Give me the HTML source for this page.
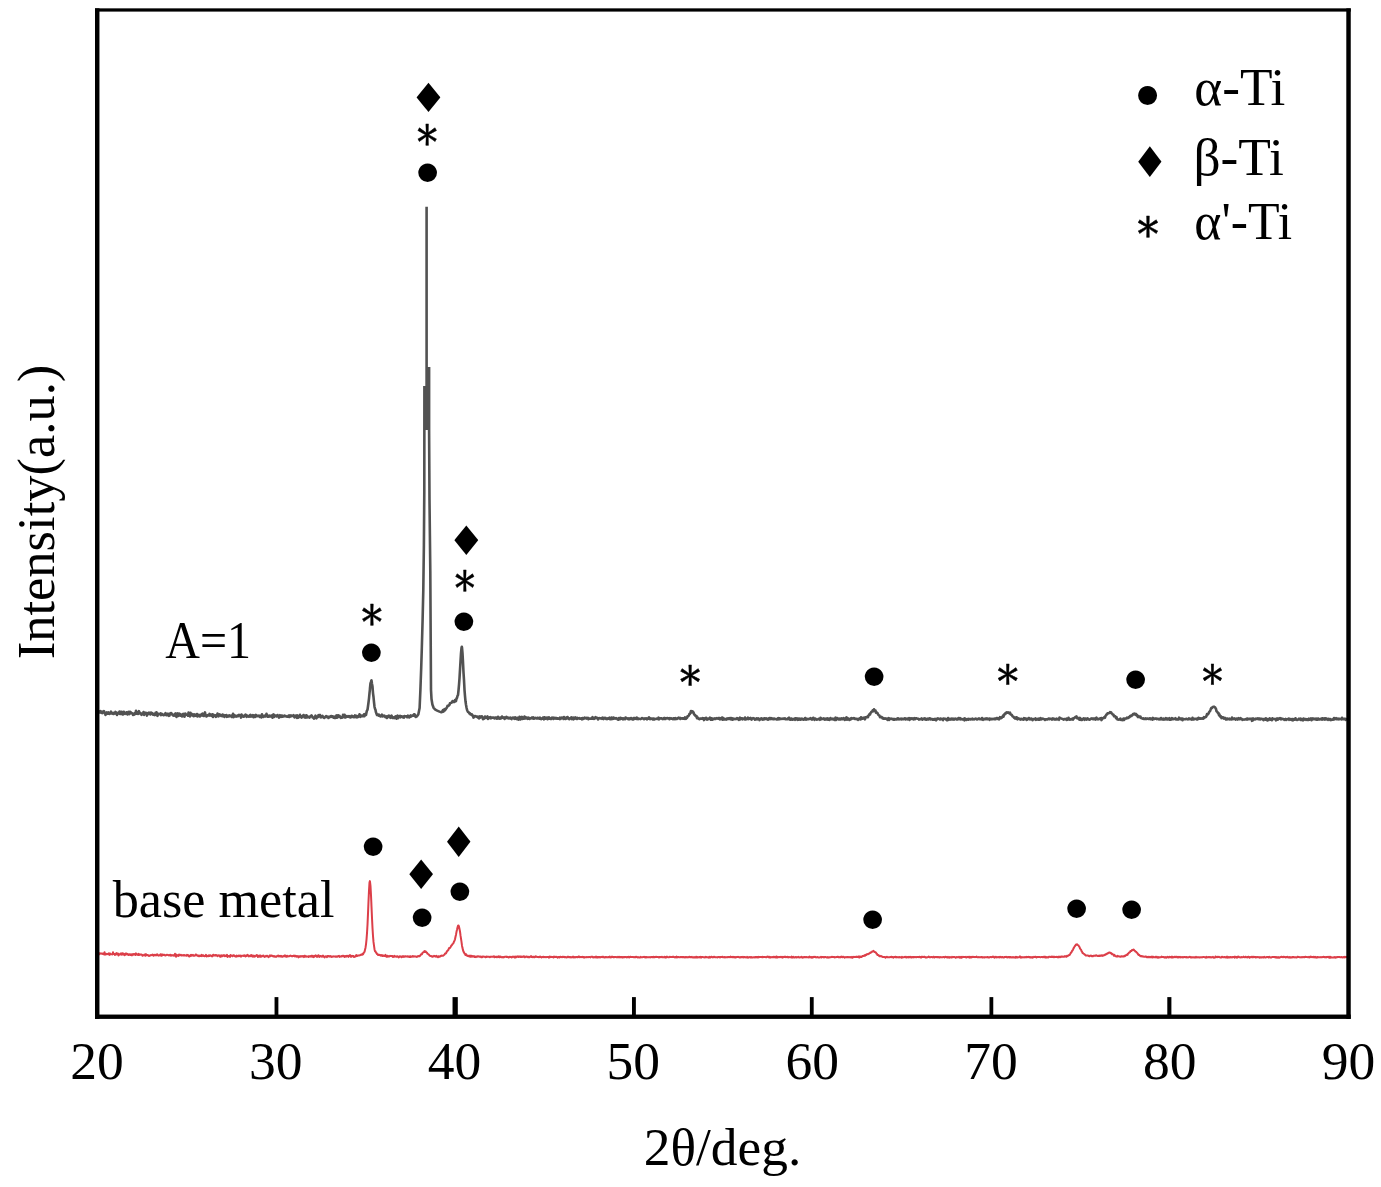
<!DOCTYPE html>
<html><head><meta charset="utf-8"><title>XRD patterns</title>
<style>html,body{margin:0;padding:0;background:#fff;overflow:hidden}svg{display:block}text{fill:#000}</style>
</head><body>
<svg width="1381" height="1187" viewBox="0 0 1381 1187">
<rect width="1381" height="1187" fill="#fff"/>
<path d="M97.0 713.7 L97.5 713.9 L98.0 712.5 L98.5 711.7 L99.0 711.4 L99.5 712.5 L100.0 711.5 L100.5 711.1 L101.0 712.7 L101.5 712.7 L102.0 713.1 L102.5 711.7 L103.0 712.6 L103.5 712.5 L104.0 711.1 L104.5 713.2 L105.0 713.0 L105.5 715.0 L106.0 712.9 L106.5 712.5 L107.0 713.9 L107.5 712.9 L108.0 713.6 L108.5 712.4 L109.0 713.0 L109.5 713.8 L110.0 713.5 L110.5 712.9 L111.0 711.7 L111.5 713.3 L112.0 712.9 L112.5 713.6 L113.0 713.1 L113.5 714.0 L114.0 712.8 L114.5 713.1 L115.0 713.6 L115.5 711.9 L116.0 712.6 L116.5 712.5 L117.0 714.9 L117.5 712.9 L118.0 713.7 L118.5 713.6 L119.0 712.8 L119.5 711.5 L120.0 714.0 L120.5 712.7 L121.0 713.8 L121.5 711.8 L122.0 712.7 L122.5 714.4 L123.0 714.5 L123.5 711.9 L124.0 711.9 L124.5 713.1 L125.0 713.9 L125.5 713.4 L126.0 713.5 L126.5 712.3 L127.0 713.8 L127.5 714.4 L128.0 712.9 L128.5 711.9 L129.0 712.6 L129.5 714.1 L130.0 711.7 L130.5 713.3 L131.0 712.4 L131.5 713.3 L132.0 713.2 L132.5 713.4 L133.0 714.9 L133.5 713.8 L134.0 714.7 L134.5 713.3 L135.0 713.0 L135.5 713.8 L136.0 710.8 L136.5 713.5 L137.0 713.7 L137.5 712.3 L138.0 714.0 L138.5 713.0 L139.0 711.2 L139.5 713.4 L140.0 712.7 L140.5 713.1 L141.0 713.5 L141.5 714.8 L142.0 713.7 L142.5 713.6 L143.0 714.0 L143.5 712.0 L144.0 714.9 L144.5 712.7 L145.0 714.1 L145.5 712.7 L146.0 712.8 L146.5 713.4 L147.0 715.6 L147.5 714.4 L148.0 713.2 L148.5 713.5 L149.0 712.7 L149.5 713.8 L150.0 713.3 L150.5 714.5 L151.0 712.6 L151.5 713.6 L152.0 713.1 L152.5 713.2 L153.0 714.6 L153.5 714.1 L154.0 714.5 L154.5 715.1 L155.0 715.0 L155.5 712.7 L156.0 714.5 L156.5 712.3 L157.0 714.0 L157.5 715.8 L158.0 713.9 L158.5 713.7 L159.0 714.2 L159.5 714.1 L160.0 714.1 L160.5 713.4 L161.0 715.1 L161.5 715.0 L162.0 713.9 L162.5 714.4 L163.0 714.8 L163.5 715.1 L164.0 714.5 L164.5 714.8 L165.0 714.0 L165.5 713.2 L166.0 713.8 L166.5 715.2 L167.0 715.2 L167.5 714.4 L168.0 713.7 L168.5 714.6 L169.0 715.8 L169.5 715.6 L170.0 713.7 L170.5 714.3 L171.0 713.0 L171.5 713.3 L172.0 714.5 L172.5 714.4 L173.0 715.3 L173.5 715.6 L174.0 715.2 L174.5 715.6 L175.0 713.9 L175.5 713.4 L176.0 714.9 L176.5 716.9 L177.0 714.8 L177.5 713.4 L178.0 714.7 L178.5 715.8 L179.0 713.6 L179.5 715.3 L180.0 714.0 L180.5 715.7 L181.0 715.3 L181.5 714.8 L182.0 716.4 L182.5 714.2 L183.0 714.0 L183.5 716.3 L184.0 713.8 L184.5 716.6 L185.0 714.6 L185.5 713.7 L186.0 714.6 L186.5 714.8 L187.0 714.9 L187.5 714.5 L188.0 715.7 L188.5 712.6 L189.0 714.2 L189.5 714.5 L190.0 716.4 L190.5 712.9 L191.0 714.4 L191.5 713.7 L192.0 714.2 L192.5 715.4 L193.0 715.2 L193.5 716.1 L194.0 714.3 L194.5 715.1 L195.0 715.9 L195.5 715.7 L196.0 714.5 L196.5 715.9 L197.0 714.0 L197.5 716.5 L198.0 715.0 L198.5 714.8 L199.0 715.2 L199.5 715.7 L200.0 716.5 L200.5 714.8 L201.0 714.6 L201.5 715.5 L202.0 714.2 L202.5 713.5 L203.0 715.7 L203.5 714.7 L204.0 716.0 L204.5 714.1 L205.0 712.4 L205.5 715.3 L206.0 715.2 L206.5 716.5 L207.0 715.5 L207.5 715.3 L208.0 715.6 L208.5 714.8 L209.0 715.2 L209.5 713.9 L210.0 715.6 L210.5 714.4 L211.0 714.7 L211.5 715.8 L212.0 716.0 L212.5 714.3 L213.0 716.9 L213.5 714.7 L214.0 715.9 L214.5 716.0 L215.0 715.4 L215.5 715.4 L216.0 716.8 L216.5 716.0 L217.0 715.6 L217.5 713.6 L218.0 714.6 L218.5 716.3 L219.0 715.4 L219.5 714.4 L220.0 714.7 L220.5 715.0 L221.0 715.9 L221.5 715.7 L222.0 716.2 L222.5 714.6 L223.0 716.2 L223.5 714.9 L224.0 715.1 L224.5 716.9 L225.0 715.4 L225.5 715.3 L226.0 715.2 L226.5 715.1 L227.0 716.8 L227.5 716.6 L228.0 716.1 L228.5 715.6 L229.0 716.4 L229.5 715.4 L230.0 715.9 L230.5 715.8 L231.0 715.6 L231.5 716.9 L232.0 717.0 L232.5 716.7 L233.0 713.9 L233.5 717.1 L234.0 716.1 L234.5 715.2 L235.0 715.5 L235.5 716.5 L236.0 716.6 L236.5 716.3 L237.0 715.7 L237.5 715.6 L238.0 716.3 L238.5 715.5 L239.0 714.8 L239.5 715.1 L240.0 715.5 L240.5 715.9 L241.0 717.6 L241.5 714.5 L242.0 716.1 L242.5 715.6 L243.0 715.9 L243.5 716.8 L244.0 716.8 L244.5 715.6 L245.0 715.2 L245.5 714.6 L246.0 715.7 L246.5 716.8 L247.0 715.5 L247.5 716.3 L248.0 716.4 L248.5 716.1 L249.0 716.7 L249.5 715.7 L250.0 715.1 L250.5 714.8 L251.0 716.6 L251.5 715.5 L252.0 715.6 L252.5 716.5 L253.0 715.2 L253.5 717.3 L254.0 716.4 L254.5 715.4 L255.0 715.3 L255.5 716.8 L256.0 714.9 L256.5 715.3 L257.0 715.9 L257.5 716.1 L258.0 715.9 L258.5 716.2 L259.0 715.6 L259.5 715.8 L260.0 717.0 L260.5 716.5 L261.0 715.6 L261.5 717.4 L262.0 714.3 L262.5 716.0 L263.0 716.5 L263.5 716.8 L264.0 716.1 L264.5 715.7 L265.0 716.5 L265.5 715.9 L266.0 716.4 L266.5 713.7 L267.0 716.3 L267.5 715.4 L268.0 716.8 L268.5 716.7 L269.0 716.7 L269.5 715.7 L270.0 716.4 L270.5 715.8 L271.0 716.3 L271.5 716.0 L272.0 715.4 L272.5 717.7 L273.0 716.7 L273.5 714.4 L274.0 716.9 L274.5 715.0 L275.0 716.0 L275.5 715.7 L276.0 715.7 L276.5 716.4 L277.0 715.9 L277.5 715.0 L278.0 716.2 L278.5 716.5 L279.0 717.6 L279.5 715.9 L280.0 715.2 L280.5 715.9 L281.0 716.8 L281.5 715.5 L282.0 715.6 L282.5 716.7 L283.0 716.2 L283.5 716.4 L284.0 715.7 L284.5 715.6 L285.0 716.0 L285.5 716.2 L286.0 716.0 L286.5 716.6 L287.0 716.7 L287.5 716.7 L288.0 716.7 L288.5 715.6 L289.0 715.4 L289.5 717.0 L290.0 716.3 L290.5 716.4 L291.0 715.4 L291.5 716.2 L292.0 715.8 L292.5 715.7 L293.0 715.9 L293.5 715.2 L294.0 716.4 L294.5 717.3 L295.0 715.8 L295.5 716.5 L296.0 715.5 L296.5 716.9 L297.0 717.9 L297.5 715.4 L298.0 716.2 L298.5 717.6 L299.0 716.7 L299.5 716.5 L300.0 714.8 L300.5 716.3 L301.0 717.2 L301.5 717.6 L302.0 717.0 L302.5 716.0 L303.0 715.9 L303.5 715.0 L304.0 715.6 L304.5 717.4 L305.0 716.4 L305.5 715.5 L306.0 717.6 L306.5 715.2 L307.0 717.5 L307.5 716.3 L308.0 716.8 L308.5 717.1 L309.0 716.8 L309.5 717.6 L310.0 716.6 L310.5 716.3 L311.0 716.0 L311.5 715.4 L312.0 716.0 L312.5 717.4 L313.0 717.2 L313.5 717.7 L314.0 718.7 L314.5 717.2 L315.0 717.0 L315.5 715.6 L316.0 716.4 L316.5 718.3 L317.0 717.0 L317.5 716.5 L318.0 716.9 L318.5 715.2 L319.0 716.0 L319.5 715.6 L320.0 715.0 L320.5 717.3 L321.0 717.4 L321.5 716.5 L322.0 716.9 L322.5 715.9 L323.0 717.0 L323.5 717.3 L324.0 717.9 L324.5 717.9 L325.0 717.1 L325.5 716.6 L326.0 716.1 L326.5 716.2 L327.0 717.2 L327.5 717.2 L328.0 716.7 L328.5 718.0 L329.0 717.2 L329.5 716.7 L330.0 716.6 L330.5 716.8 L331.0 716.0 L331.5 716.0 L332.0 717.0 L332.5 716.3 L333.0 716.6 L333.5 717.7 L334.0 716.6 L334.5 717.8 L335.0 716.8 L335.5 717.9 L336.0 717.1 L336.5 715.4 L337.0 717.7 L337.5 716.6 L338.0 715.3 L338.5 716.9 L339.0 716.9 L339.5 715.8 L340.0 716.3 L340.5 717.2 L341.0 717.9 L341.5 717.7 L342.0 717.7 L342.5 717.6 L343.0 714.9 L343.5 716.3 L344.0 716.9 L344.5 714.8 L345.0 717.4 L345.5 717.5 L346.0 716.2 L346.5 716.5 L347.0 716.1 L347.5 716.8 L348.0 716.8 L348.5 716.8 L349.0 716.0 L349.5 717.1 L350.0 716.5 L350.5 717.5 L351.0 717.0 L351.5 715.7 L352.0 715.7 L352.5 716.8 L353.0 716.4 L353.5 717.1 L354.0 717.3 L354.5 716.7 L355.0 715.4 L355.5 715.8 L356.0 717.1 L356.5 715.9 L357.0 717.4 L357.5 716.5 L358.0 716.9 L358.5 715.9 L359.0 716.4 L359.5 714.3 L360.0 716.2 L360.5 716.8 L361.0 715.6 L361.5 715.6 L362.0 716.1 L362.5 716.1 L363.0 715.3 L363.5 716.2 L364.0 714.4 L364.5 716.2 L365.0 714.0 L365.5 714.0 L366.0 714.9 L366.5 712.3 L367.0 710.4 L367.5 709.7 L368.0 706.2 L368.5 702.5 L369.0 698.3 L369.5 693.2 L369.9 689.6 L370.0 687.9 L370.5 683.2 L371.0 682.3 L371.3 680.6 L371.5 680.3 L372.0 684.0 L372.5 686.6 L373.0 693.1 L373.5 697.0 L374.0 702.2 L374.5 706.7 L375.0 708.8 L375.5 709.9 L376.0 712.4 L376.5 713.7 L377.0 714.9 L377.5 714.3 L378.0 715.1 L378.5 715.6 L379.0 714.6 L379.5 715.8 L380.0 715.5 L380.5 716.5 L381.0 716.2 L381.5 716.2 L382.0 714.7 L382.5 716.4 L383.0 716.2 L383.5 715.9 L384.0 716.2 L384.5 715.7 L385.0 716.8 L385.5 717.2 L386.0 717.2 L386.5 716.4 L387.0 718.0 L387.5 717.4 L388.0 716.1 L388.5 716.7 L389.0 715.7 L389.5 716.8 L390.0 717.4 L390.5 717.8 L391.0 716.6 L391.5 715.6 L392.0 716.8 L392.5 717.8 L393.0 717.0 L393.5 717.8 L394.0 717.5 L394.5 718.0 L395.0 717.3 L395.5 716.4 L396.0 717.2 L396.5 718.7 L397.0 716.5 L397.5 715.6 L398.0 718.3 L398.5 717.1 L399.0 716.4 L399.5 716.4 L400.0 715.8 L400.5 717.3 L401.0 716.9 L401.5 716.3 L402.0 716.5 L402.5 716.5 L403.0 717.5 L403.5 716.6 L404.0 717.6 L404.5 716.1 L405.0 716.2 L405.5 716.3 L406.0 716.2 L406.5 716.5 L407.0 717.2 L407.5 717.3 L408.0 715.7 L408.5 717.2 L409.0 716.4 L409.5 717.3 L410.0 716.1 L410.5 715.5 L411.0 716.6 L411.5 716.4 L412.0 715.5 L412.5 715.7 L413.0 715.7 L413.5 715.7 L414.0 714.2 L414.5 714.3 L415.0 715.0 L415.6 717.0 L416.8 716.4 L418.3 714.5 L419.6 708.0 L420.4 690.0 L421.2 668.0 L421.8 649.0 L422.6 620.0 L423.3 590.0 L423.9 545.0 L424.3 491.0 L424.4 386.0 M426.6 430.0 L426.6 206.8 M429.1 367.0 L429.1 430.0 L429.5 500.0 L430.3 571.0 L430.7 640.0 L431.0 690.0 L431.5 699.0 L432.4 704.5 L433.6 707.8 L435.3 709.6 L437.2 710.6 L439.5 711.6 L441.4 712.3 L442.0 712.1 L442.5 711.2 L443.0 710.0 L443.5 711.6 L444.0 710.0 L444.5 709.1 L445.0 710.3 L445.5 709.4 L446.0 708.8 L446.5 708.1 L447.0 707.4 L447.5 705.8 L448.0 706.0 L448.5 705.6 L449.0 705.3 L449.5 704.7 L450.0 703.3 L450.5 703.1 L451.0 702.9 L451.5 702.7 L452.0 701.9 L452.5 701.1 L453.0 701.2 L453.5 702.0 L454.0 701.6 L454.5 701.8 L455.0 700.0 L455.5 700.6 L456.0 701.0 L456.5 698.5 L457.0 698.0 L457.5 695.9 L458.0 695.1 L458.5 690.5 L458.6 689.5 L459.0 684.8 L459.5 678.4 L460.0 669.9 L460.5 661.5 L461.0 653.4 L461.5 648.0 L461.8 646.7 L462.0 647.6 L462.5 653.3 L463.0 662.2 L463.5 672.5 L464.0 680.2 L464.5 689.8 L465.0 696.2 L465.5 701.3 L466.0 704.7 L466.5 707.5 L467.0 709.8 L467.5 711.0 L468.0 712.0 L468.5 712.1 L469.0 712.6 L469.5 713.5 L470.0 713.3 L470.5 714.5 L471.0 714.6 L471.5 714.3 L472.0 714.5 L472.5 715.6 L473.0 715.8 L473.5 717.6 L474.0 717.0 L474.5 716.1 L475.0 716.4 L475.5 716.1 L476.0 716.4 L476.5 716.7 L477.0 717.0 L477.5 716.7 L478.0 717.6 L478.5 717.6 L479.0 718.4 L479.5 716.4 L480.0 717.7 L480.5 717.1 L481.0 716.4 L481.5 717.2 L482.0 716.4 L482.5 717.4 L483.0 719.2 L483.5 718.3 L484.0 718.6 L484.5 718.3 L485.0 716.6 L485.5 717.8 L486.0 717.7 L486.5 717.9 L487.0 717.0 L487.5 716.4 L488.0 719.0 L488.5 718.4 L489.0 717.9 L489.5 717.4 L490.0 717.8 L490.5 717.0 L491.0 718.3 L491.5 717.9 L492.0 717.7 L492.5 717.5 L493.0 717.8 L493.5 717.9 L494.0 717.6 L494.5 718.4 L495.0 718.0 L495.5 717.8 L496.0 717.3 L496.5 718.6 L497.0 718.6 L497.5 718.3 L498.0 716.8 L498.5 717.7 L499.0 718.5 L499.5 717.9 L500.0 718.7 L500.5 717.7 L501.0 718.4 L501.5 718.2 L502.0 716.5 L502.5 717.7 L503.0 717.8 L503.5 717.6 L504.0 717.4 L504.5 718.9 L505.0 717.9 L505.5 718.4 L506.0 717.2 L506.5 716.8 L507.0 717.7 L507.5 718.2 L508.0 717.6 L508.5 718.3 L509.0 718.5 L509.5 717.8 L510.0 718.0 L510.5 717.6 L511.0 718.7 L511.5 719.1 L512.0 718.3 L512.5 717.7 L513.0 717.6 L513.5 717.9 L514.0 718.6 L514.5 717.6 L515.0 718.9 L515.5 717.4 L516.0 718.1 L516.5 718.8 L517.0 719.1 L517.5 717.8 L518.0 718.5 L518.5 719.6 L519.0 718.8 L519.5 716.8 L520.0 718.3 L520.5 719.5 L521.0 717.4 L521.5 718.6 L522.0 716.9 L522.5 719.0 L523.0 717.6 L523.5 718.6 L524.0 718.7 L524.5 716.5 L525.0 717.3 L525.5 718.3 L526.0 717.3 L526.5 718.1 L527.0 717.6 L527.5 718.9 L528.0 717.9 L528.5 717.6 L529.0 718.5 L529.5 718.9 L530.0 718.1 L530.5 718.3 L531.0 718.5 L531.5 717.9 L532.0 717.5 L532.5 718.5 L533.0 718.0 L533.5 717.4 L534.0 718.7 L534.5 718.4 L535.0 718.3 L535.5 717.8 L536.0 718.1 L536.5 718.5 L537.0 718.5 L537.5 717.8 L538.0 717.7 L538.5 718.4 L539.0 718.3 L539.5 718.7 L540.0 717.6 L540.5 718.7 L541.0 719.2 L541.5 718.8 L542.0 718.3 L542.5 718.7 L543.0 717.5 L543.5 718.0 L544.0 719.4 L544.5 717.3 L545.0 717.6 L545.5 718.7 L546.0 717.9 L546.5 718.0 L547.0 717.6 L547.5 719.2 L548.0 717.9 L548.5 718.1 L549.0 717.3 L549.5 718.7 L550.0 718.3 L550.5 718.6 L551.0 719.1 L551.5 718.4 L552.0 717.6 L552.5 717.7 L553.0 718.3 L553.5 719.0 L554.0 717.6 L554.5 718.2 L555.0 718.2 L555.5 718.7 L556.0 717.8 L556.5 718.5 L557.0 718.7 L557.5 718.3 L558.0 718.3 L558.5 718.7 L559.0 718.6 L559.5 719.0 L560.0 717.7 L560.5 719.0 L561.0 718.2 L561.5 717.7 L562.0 718.0 L562.5 717.7 L563.0 718.2 L563.5 718.9 L564.0 717.1 L564.5 717.7 L565.0 718.8 L565.5 718.2 L566.0 718.8 L566.5 717.6 L567.0 718.3 L567.5 717.0 L568.0 717.9 L568.5 718.8 L569.0 719.0 L569.5 719.2 L570.0 718.3 L570.5 717.9 L571.0 718.2 L571.5 717.4 L572.0 719.1 L572.5 719.0 L573.0 717.9 L573.5 719.3 L574.0 717.7 L574.5 718.7 L575.0 718.0 L575.5 717.5 L576.0 718.6 L576.5 717.8 L577.0 719.0 L577.5 717.9 L578.0 718.5 L578.5 718.2 L579.0 718.5 L579.5 718.1 L580.0 718.8 L580.5 718.7 L581.0 718.4 L581.5 718.3 L582.0 719.4 L582.5 718.1 L583.0 718.2 L583.5 718.8 L584.0 718.4 L584.5 717.6 L585.0 718.4 L585.5 718.2 L586.0 717.9 L586.5 718.5 L587.0 717.9 L587.5 718.3 L588.0 717.9 L588.5 719.2 L589.0 718.3 L589.5 718.7 L590.0 718.6 L590.5 718.8 L591.0 718.4 L591.5 718.8 L592.0 718.5 L592.5 717.2 L593.0 718.6 L593.5 717.8 L594.0 718.9 L594.5 718.6 L595.0 718.3 L595.5 717.2 L596.0 717.4 L596.5 717.9 L597.0 718.3 L597.5 717.8 L598.0 719.5 L598.5 718.7 L599.0 718.4 L599.5 718.0 L600.0 718.3 L600.5 718.4 L601.0 718.3 L601.5 718.4 L602.0 718.9 L602.5 717.6 L603.0 718.6 L603.5 719.0 L604.0 717.8 L604.5 718.4 L605.0 718.3 L605.5 717.9 L606.0 719.0 L606.5 718.3 L607.0 719.1 L607.5 718.7 L608.0 718.4 L608.5 718.7 L609.0 718.3 L609.5 717.7 L610.0 719.2 L610.5 718.7 L611.0 719.1 L611.5 717.6 L612.0 719.0 L612.5 718.9 L613.0 718.5 L613.5 717.5 L614.0 718.6 L614.5 718.2 L615.0 718.4 L615.5 718.6 L616.0 718.1 L616.5 718.5 L617.0 718.5 L617.5 719.3 L618.0 718.5 L618.5 719.7 L619.0 718.0 L619.5 718.5 L620.0 719.2 L620.5 717.8 L621.0 718.9 L621.5 718.7 L622.0 718.2 L622.5 718.4 L623.0 719.3 L623.5 718.3 L624.0 718.7 L624.5 718.8 L625.0 719.2 L625.5 717.5 L626.0 717.8 L626.5 717.9 L627.0 718.4 L627.5 718.9 L628.0 719.0 L628.5 718.4 L629.0 719.3 L629.5 718.5 L630.0 718.9 L630.5 718.2 L631.0 719.0 L631.5 718.2 L632.0 719.2 L632.5 719.0 L633.0 719.5 L633.5 718.4 L634.0 718.0 L634.5 719.0 L635.0 718.7 L635.5 718.3 L636.0 717.9 L636.5 719.0 L637.0 717.6 L637.5 718.4 L638.0 719.1 L638.5 718.5 L639.0 718.8 L639.5 718.8 L640.0 718.9 L640.5 719.1 L641.0 718.9 L641.5 718.4 L642.0 718.0 L642.5 718.5 L643.0 718.3 L643.5 718.8 L644.0 719.2 L644.5 719.0 L645.0 718.3 L645.5 718.7 L646.0 718.6 L646.5 718.4 L647.0 719.3 L647.5 718.9 L648.0 718.8 L648.5 718.0 L649.0 717.3 L649.5 718.3 L650.0 719.2 L650.5 718.5 L651.0 718.6 L651.5 718.5 L652.0 718.9 L652.5 718.6 L653.0 719.5 L653.5 718.6 L654.0 718.5 L654.5 719.3 L655.0 719.0 L655.5 719.0 L656.0 718.9 L656.5 718.6 L657.0 718.8 L657.5 718.9 L658.0 718.7 L658.5 717.7 L659.0 719.3 L659.5 718.4 L660.0 718.4 L660.5 718.5 L661.0 718.3 L661.5 718.2 L662.0 718.6 L662.5 719.1 L663.0 718.5 L663.5 718.9 L664.0 718.0 L664.5 719.0 L665.0 718.1 L665.5 719.0 L666.0 718.3 L666.5 718.3 L667.0 718.0 L667.5 718.0 L668.0 718.5 L668.5 718.2 L669.0 718.5 L669.5 719.2 L670.0 718.2 L670.5 718.5 L671.0 718.6 L671.5 718.3 L672.0 718.6 L672.5 718.8 L673.0 719.2 L673.5 718.3 L674.0 718.5 L674.5 718.5 L675.0 719.2 L675.5 718.1 L676.0 718.7 L676.5 719.0 L677.0 718.9 L677.5 718.3 L678.0 718.1 L678.5 717.7 L679.0 718.3 L679.5 718.5 L680.0 717.8 L680.5 719.0 L681.0 718.6 L681.5 718.4 L682.0 718.2 L682.5 718.7 L683.0 718.3 L683.5 718.7 L684.0 718.1 L684.5 718.8 L685.0 717.4 L685.5 717.5 L686.0 718.8 L686.5 718.1 L687.0 718.0 L687.5 716.3 L688.0 716.5 L688.5 715.9 L689.0 715.1 L689.5 713.7 L690.0 713.7 L690.5 712.4 L691.0 711.0 L691.5 712.5 L692.0 711.3 L692.5 712.2 L693.0 711.7 L693.5 712.4 L694.0 714.1 L694.5 714.9 L695.0 714.9 L695.5 716.1 L696.0 716.0 L696.5 716.1 L697.0 718.1 L697.5 717.3 L698.0 718.4 L698.5 718.7 L699.0 718.5 L699.5 719.2 L700.0 718.6 L700.5 718.6 L701.0 718.5 L701.5 718.8 L702.0 718.7 L702.5 718.1 L703.0 718.6 L703.5 718.4 L704.0 720.1 L704.5 719.3 L705.0 718.3 L705.5 719.0 L706.0 717.8 L706.5 718.7 L707.0 719.6 L707.5 718.7 L708.0 719.3 L708.5 718.5 L709.0 718.9 L709.5 718.9 L710.0 717.6 L710.5 718.3 L711.0 719.7 L711.5 718.3 L712.0 719.3 L712.5 719.6 L713.0 718.7 L713.5 719.2 L714.0 718.9 L714.5 718.4 L715.0 719.0 L715.5 719.0 L716.0 718.3 L716.5 718.5 L717.0 718.1 L717.5 718.6 L718.0 718.7 L718.5 718.3 L719.0 717.8 L719.5 719.1 L720.0 719.4 L720.5 718.3 L721.0 718.8 L721.5 718.4 L722.0 717.5 L722.5 719.8 L723.0 718.9 L723.5 718.1 L724.0 719.4 L724.5 719.1 L725.0 719.5 L725.5 719.1 L726.0 719.0 L726.5 719.5 L727.0 718.6 L727.5 718.9 L728.0 718.2 L728.5 718.2 L729.0 718.9 L729.5 718.9 L730.0 718.0 L730.5 719.0 L731.0 719.3 L731.5 718.2 L732.0 718.6 L732.5 719.7 L733.0 718.4 L733.5 719.1 L734.0 719.2 L734.5 718.9 L735.0 718.9 L735.5 719.1 L736.0 718.9 L736.5 718.9 L737.0 718.1 L737.5 718.9 L738.0 718.4 L738.5 719.6 L739.0 719.9 L739.5 719.4 L740.0 717.7 L740.5 719.3 L741.0 718.9 L741.5 718.3 L742.0 718.2 L742.5 719.3 L743.0 718.5 L743.5 718.8 L744.0 718.9 L744.5 719.3 L745.0 717.5 L745.5 719.4 L746.0 718.4 L746.5 718.6 L747.0 719.1 L747.5 719.0 L748.0 717.7 L748.5 719.1 L749.0 718.8 L749.5 718.3 L750.0 718.5 L750.5 718.0 L751.0 719.2 L751.5 719.6 L752.0 718.5 L752.5 718.6 L753.0 718.1 L753.5 718.5 L754.0 718.3 L754.5 718.9 L755.0 719.7 L755.5 719.4 L756.0 719.3 L756.5 718.4 L757.0 719.3 L757.5 718.5 L758.0 718.4 L758.5 719.2 L759.0 718.8 L759.5 720.1 L760.0 718.9 L760.5 718.7 L761.0 719.2 L761.5 718.3 L762.0 719.2 L762.5 719.6 L763.0 718.8 L763.5 718.6 L764.0 719.4 L764.5 718.3 L765.0 719.0 L765.5 718.6 L766.0 719.0 L766.5 718.5 L767.0 719.2 L767.5 719.1 L768.0 719.7 L768.5 718.7 L769.0 719.1 L769.5 718.0 L770.0 718.5 L770.5 719.0 L771.0 718.2 L771.5 718.8 L772.0 718.4 L772.5 719.1 L773.0 719.2 L773.5 718.6 L774.0 719.2 L774.5 718.6 L775.0 718.9 L775.5 719.1 L776.0 719.2 L776.5 719.2 L777.0 719.7 L777.5 718.6 L778.0 718.8 L778.5 718.0 L779.0 719.3 L779.5 718.3 L780.0 718.6 L780.5 718.6 L781.0 719.1 L781.5 718.7 L782.0 718.7 L782.5 718.9 L783.0 718.7 L783.5 718.9 L784.0 718.4 L784.5 718.6 L785.0 718.3 L785.5 719.3 L786.0 719.3 L786.5 719.2 L787.0 719.1 L787.5 718.6 L788.0 719.2 L788.5 718.1 L789.0 717.6 L789.5 718.3 L790.0 719.6 L790.5 719.0 L791.0 719.7 L791.5 718.5 L792.0 719.4 L792.5 719.7 L793.0 719.4 L793.5 719.0 L794.0 719.4 L794.5 718.7 L795.0 719.8 L795.5 718.3 L796.0 718.5 L796.5 718.9 L797.0 718.5 L797.5 719.8 L798.0 719.2 L798.5 718.5 L799.0 719.7 L799.5 719.6 L800.0 718.7 L800.5 719.7 L801.0 719.5 L801.5 718.7 L802.0 718.6 L802.5 719.1 L803.0 719.5 L803.5 719.7 L804.0 719.7 L804.5 718.7 L805.0 718.0 L805.5 718.1 L806.0 719.7 L806.5 719.4 L807.0 719.5 L807.5 718.9 L808.0 719.0 L808.5 719.2 L809.0 719.1 L809.5 719.0 L810.0 718.4 L810.5 718.2 L811.0 719.0 L811.5 718.8 L812.0 719.6 L812.5 718.4 L813.0 717.9 L813.5 717.9 L814.0 718.9 L814.5 719.8 L815.0 718.7 L815.5 718.6 L816.0 719.1 L816.5 719.7 L817.0 719.5 L817.5 719.4 L818.0 719.4 L818.5 718.8 L819.0 719.0 L819.5 719.1 L820.0 719.8 L820.5 717.8 L821.0 718.6 L821.5 719.1 L822.0 718.8 L822.5 718.9 L823.0 718.8 L823.5 718.4 L824.0 719.2 L824.5 719.6 L825.0 718.7 L825.5 719.1 L826.0 719.5 L826.5 718.6 L827.0 718.9 L827.5 718.3 L828.0 719.7 L828.5 719.8 L829.0 718.8 L829.5 719.9 L830.0 719.4 L830.5 718.0 L831.0 719.2 L831.5 719.0 L832.0 719.2 L832.5 719.3 L833.0 718.7 L833.5 719.5 L834.0 719.1 L834.5 719.9 L835.0 718.9 L835.5 717.7 L836.0 719.9 L836.5 719.2 L837.0 718.0 L837.5 718.6 L838.0 718.5 L838.5 719.4 L839.0 718.6 L839.5 719.5 L840.0 718.7 L840.5 719.4 L841.0 718.6 L841.5 718.3 L842.0 719.2 L842.5 718.8 L843.0 719.2 L843.5 718.1 L844.0 718.4 L844.5 718.7 L845.0 719.9 L845.5 719.1 L846.0 718.1 L846.5 717.3 L847.0 719.8 L847.5 719.1 L848.0 718.3 L848.5 719.4 L849.0 719.3 L849.5 720.0 L850.0 719.0 L850.5 718.6 L851.0 719.3 L851.5 718.2 L852.0 718.6 L852.5 718.4 L853.0 718.6 L853.5 718.2 L854.0 718.1 L854.5 718.3 L855.0 719.0 L855.5 718.8 L856.0 718.8 L856.5 719.0 L857.0 719.2 L857.5 719.0 L858.0 719.8 L858.5 718.9 L859.0 718.9 L859.5 718.5 L860.0 719.3 L860.5 719.4 L861.0 717.2 L861.5 719.0 L862.0 718.0 L862.5 718.7 L863.0 718.5 L863.5 717.8 L864.0 717.6 L864.5 718.0 L865.0 719.3 L865.5 717.2 L866.0 717.4 L866.5 717.1 L867.0 716.8 L867.5 717.1 L868.0 717.1 L868.5 715.5 L869.0 715.2 L869.5 714.2 L870.0 714.5 L870.5 713.0 L871.0 712.7 L871.5 711.7 L872.0 711.8 L872.5 710.7 L873.0 710.0 L873.5 711.2 L874.0 709.2 L874.5 710.4 L875.0 710.5 L875.5 710.6 L876.0 712.7 L876.5 712.4 L877.0 712.7 L877.5 713.1 L878.0 714.4 L878.5 714.8 L879.0 715.3 L879.5 715.6 L880.0 717.2 L880.5 717.0 L881.0 717.1 L881.5 716.9 L882.0 717.4 L882.5 718.3 L883.0 717.8 L883.5 718.6 L884.0 718.3 L884.5 718.7 L885.0 718.7 L885.5 718.4 L886.0 718.5 L886.5 718.7 L887.0 719.0 L887.5 719.9 L888.0 719.2 L888.5 718.1 L889.0 719.9 L889.5 718.7 L890.0 718.5 L890.5 718.9 L891.0 718.8 L891.5 719.0 L892.0 718.8 L892.5 718.9 L893.0 719.5 L893.5 719.7 L894.0 718.9 L894.5 719.7 L895.0 719.4 L895.5 719.5 L896.0 719.0 L896.5 719.0 L897.0 719.3 L897.5 718.4 L898.0 719.0 L898.5 718.4 L899.0 719.4 L899.5 719.0 L900.0 719.2 L900.5 718.8 L901.0 718.6 L901.5 719.4 L902.0 718.7 L902.5 718.8 L903.0 719.0 L903.5 719.2 L904.0 719.0 L904.5 718.4 L905.0 718.4 L905.5 719.5 L906.0 718.8 L906.5 718.8 L907.0 718.5 L907.5 719.4 L908.0 719.2 L908.5 718.7 L909.0 718.1 L909.5 719.9 L910.0 718.7 L910.5 718.4 L911.0 718.7 L911.5 718.4 L912.0 719.0 L912.5 718.7 L913.0 718.4 L913.5 719.3 L914.0 718.6 L914.5 718.1 L915.0 719.2 L915.5 718.7 L916.0 718.5 L916.5 718.2 L917.0 718.6 L917.5 718.7 L918.0 718.8 L918.5 718.7 L919.0 719.6 L919.5 719.5 L920.0 719.2 L920.5 719.3 L921.0 718.8 L921.5 718.3 L922.0 719.3 L922.5 719.7 L923.0 718.7 L923.5 718.7 L924.0 718.7 L924.5 718.3 L925.0 719.3 L925.5 718.5 L926.0 719.7 L926.5 719.8 L927.0 719.1 L927.5 719.0 L928.0 718.6 L928.5 719.5 L929.0 719.1 L929.5 718.3 L930.0 718.5 L930.5 719.3 L931.0 718.8 L931.5 719.2 L932.0 719.1 L932.5 719.7 L933.0 719.0 L933.5 719.6 L934.0 719.6 L934.5 719.7 L935.0 718.8 L935.5 719.2 L936.0 720.3 L936.5 718.9 L937.0 718.7 L937.5 719.1 L938.0 718.4 L938.5 718.6 L939.0 718.8 L939.5 718.9 L940.0 719.5 L940.5 718.5 L941.0 718.9 L941.5 719.2 L942.0 718.9 L942.5 719.4 L943.0 720.1 L943.5 718.5 L944.0 718.6 L944.5 718.8 L945.0 718.8 L945.5 718.8 L946.0 719.2 L946.5 719.9 L947.0 720.3 L947.5 719.0 L948.0 718.0 L948.5 719.8 L949.0 719.0 L949.5 718.8 L950.0 719.6 L950.5 719.0 L951.0 718.9 L951.5 718.6 L952.0 719.5 L952.5 719.5 L953.0 718.6 L953.5 718.8 L954.0 719.7 L954.5 718.7 L955.0 718.8 L955.5 718.6 L956.0 718.9 L956.5 719.5 L957.0 719.1 L957.5 719.5 L958.0 719.3 L958.5 718.0 L959.0 719.0 L959.5 719.0 L960.0 718.2 L960.5 719.4 L961.0 719.0 L961.5 718.8 L962.0 719.3 L962.5 719.5 L963.0 719.4 L963.5 718.8 L964.0 719.0 L964.5 720.3 L965.0 718.4 L965.5 719.1 L966.0 719.0 L966.5 719.8 L967.0 719.3 L967.5 719.1 L968.0 718.9 L968.5 719.7 L969.0 719.1 L969.5 719.0 L970.0 719.1 L970.5 719.4 L971.0 719.0 L971.5 719.2 L972.0 719.4 L972.5 718.7 L973.0 718.9 L973.5 719.1 L974.0 719.4 L974.5 719.3 L975.0 718.8 L975.5 718.5 L976.0 718.8 L976.5 718.8 L977.0 719.5 L977.5 719.3 L978.0 719.1 L978.5 718.5 L979.0 718.4 L979.5 719.1 L980.0 719.3 L980.5 719.2 L981.0 718.9 L981.5 719.3 L982.0 718.0 L982.5 719.6 L983.0 719.8 L983.5 719.1 L984.0 719.1 L984.5 718.9 L985.0 719.4 L985.5 718.5 L986.0 718.7 L986.5 719.2 L987.0 718.3 L987.5 719.2 L988.0 719.2 L988.5 719.0 L989.0 718.7 L989.5 719.8 L990.0 718.7 L990.5 719.0 L991.0 719.3 L991.5 718.9 L992.0 719.4 L992.5 718.9 L993.0 719.0 L993.5 718.9 L994.0 719.2 L994.5 718.5 L995.0 719.3 L995.5 719.3 L996.0 718.3 L996.5 718.0 L997.0 718.0 L997.5 718.2 L998.0 718.9 L998.5 718.5 L999.0 719.3 L999.5 719.0 L1000.0 717.2 L1000.5 717.6 L1001.0 717.4 L1001.5 718.0 L1002.0 717.3 L1002.5 717.0 L1003.0 715.6 L1003.5 716.6 L1004.0 714.5 L1004.5 714.6 L1005.0 713.6 L1005.5 713.1 L1006.0 713.3 L1006.5 712.3 L1007.0 712.8 L1007.5 712.6 L1008.0 712.3 L1008.5 712.7 L1009.0 713.2 L1009.5 713.5 L1010.0 712.7 L1010.5 714.1 L1011.0 714.7 L1011.5 714.6 L1012.0 715.1 L1012.5 716.4 L1013.0 716.6 L1013.5 716.7 L1014.0 717.7 L1014.5 717.8 L1015.0 718.5 L1015.5 717.7 L1016.0 718.6 L1016.5 717.3 L1017.0 718.1 L1017.5 719.3 L1018.0 718.1 L1018.5 718.6 L1019.0 718.6 L1019.5 719.0 L1020.0 719.4 L1020.5 719.6 L1021.0 718.8 L1021.5 719.0 L1022.0 719.3 L1022.5 719.5 L1023.0 718.8 L1023.5 719.6 L1024.0 718.2 L1024.5 719.1 L1025.0 718.3 L1025.5 718.7 L1026.0 718.6 L1026.5 719.9 L1027.0 719.8 L1027.5 719.4 L1028.0 719.1 L1028.5 718.0 L1029.0 718.1 L1029.5 719.1 L1030.0 719.4 L1030.5 719.3 L1031.0 718.6 L1031.5 718.6 L1032.0 719.3 L1032.5 720.2 L1033.0 719.4 L1033.5 719.0 L1034.0 719.0 L1034.5 719.3 L1035.0 719.2 L1035.5 718.3 L1036.0 719.8 L1036.5 719.3 L1037.0 719.3 L1037.5 718.8 L1038.0 719.6 L1038.5 719.6 L1039.0 718.7 L1039.5 719.6 L1040.0 718.7 L1040.5 718.1 L1041.0 719.5 L1041.5 718.6 L1042.0 718.8 L1042.5 718.6 L1043.0 719.0 L1043.5 718.9 L1044.0 719.1 L1044.5 719.3 L1045.0 719.9 L1045.5 719.3 L1046.0 719.3 L1046.5 719.3 L1047.0 719.5 L1047.5 719.5 L1048.0 719.2 L1048.5 718.5 L1049.0 718.6 L1049.5 719.2 L1050.0 718.9 L1050.5 718.9 L1051.0 718.8 L1051.5 718.7 L1052.0 719.6 L1052.5 719.5 L1053.0 718.4 L1053.5 719.2 L1054.0 719.1 L1054.5 718.8 L1055.0 719.6 L1055.5 719.2 L1056.0 719.1 L1056.5 718.6 L1057.0 719.5 L1057.5 719.2 L1058.0 719.2 L1058.5 718.7 L1059.0 719.8 L1059.5 717.5 L1060.0 718.4 L1060.5 718.2 L1061.0 718.4 L1061.5 718.6 L1062.0 718.8 L1062.5 718.9 L1063.0 719.2 L1063.5 719.7 L1064.0 719.4 L1064.5 719.1 L1065.0 719.0 L1065.5 719.3 L1066.0 719.5 L1066.5 718.7 L1067.0 719.9 L1067.5 719.1 L1068.0 719.5 L1068.5 717.8 L1069.0 719.2 L1069.5 718.9 L1070.0 719.7 L1070.5 719.6 L1071.0 719.2 L1071.5 719.4 L1072.0 718.9 L1072.5 718.6 L1073.0 719.6 L1073.5 718.3 L1074.0 718.5 L1074.5 717.9 L1075.0 717.3 L1075.5 716.8 L1076.0 717.0 L1076.5 716.5 L1077.0 718.2 L1077.5 717.5 L1078.0 718.4 L1078.5 718.5 L1079.0 719.3 L1079.5 719.7 L1080.0 717.9 L1080.5 719.1 L1081.0 719.8 L1081.5 719.0 L1082.0 719.9 L1082.5 719.6 L1083.0 719.2 L1083.5 718.3 L1084.0 718.7 L1084.5 719.8 L1085.0 718.6 L1085.5 718.5 L1086.0 718.8 L1086.5 719.7 L1087.0 719.1 L1087.5 718.3 L1088.0 718.7 L1088.5 719.4 L1089.0 719.6 L1089.5 719.8 L1090.0 719.3 L1090.5 719.2 L1091.0 718.5 L1091.5 718.7 L1092.0 718.3 L1092.5 718.9 L1093.0 719.2 L1093.5 719.0 L1094.0 718.5 L1094.5 719.2 L1095.0 719.4 L1095.5 719.6 L1096.0 717.9 L1096.5 717.7 L1097.0 718.4 L1097.5 719.2 L1098.0 719.4 L1098.5 719.2 L1099.0 718.8 L1099.5 718.9 L1100.0 718.6 L1100.5 718.3 L1101.0 718.1 L1101.5 720.1 L1102.0 718.2 L1102.5 718.5 L1103.0 718.2 L1103.5 718.2 L1104.0 717.4 L1104.5 717.5 L1105.0 717.6 L1105.5 715.8 L1106.0 715.3 L1106.5 714.5 L1107.0 714.3 L1107.5 713.3 L1108.0 713.5 L1108.5 713.2 L1109.0 713.1 L1109.5 713.0 L1110.0 712.1 L1110.5 712.5 L1111.0 712.3 L1111.5 713.1 L1112.0 713.6 L1112.5 714.3 L1113.0 714.6 L1113.5 714.7 L1114.0 716.3 L1114.5 716.3 L1115.0 716.2 L1115.5 716.5 L1116.0 718.1 L1116.5 717.2 L1117.0 718.7 L1117.5 719.4 L1118.0 719.2 L1118.5 719.6 L1119.0 719.6 L1119.5 719.2 L1120.0 719.7 L1120.5 718.7 L1121.0 720.0 L1121.5 720.0 L1122.0 719.7 L1122.5 720.1 L1123.0 719.4 L1123.5 718.5 L1124.0 720.0 L1124.5 719.2 L1125.0 718.6 L1125.5 718.5 L1126.0 718.4 L1126.5 718.5 L1127.0 717.6 L1127.5 718.0 L1128.0 717.6 L1128.5 717.8 L1129.0 717.0 L1129.5 717.1 L1130.0 716.0 L1130.5 716.3 L1131.0 715.6 L1131.5 715.9 L1132.0 715.2 L1132.5 715.2 L1133.0 714.2 L1133.5 713.9 L1134.0 714.1 L1134.5 713.6 L1135.0 714.0 L1135.5 714.9 L1136.0 714.0 L1136.5 714.6 L1137.0 715.2 L1137.5 716.4 L1138.0 717.0 L1138.5 716.0 L1139.0 716.4 L1139.5 717.1 L1140.0 717.0 L1140.5 716.6 L1141.0 718.1 L1141.5 718.2 L1142.0 718.4 L1142.5 718.6 L1143.0 718.6 L1143.5 718.3 L1144.0 719.0 L1144.5 718.7 L1145.0 718.9 L1145.5 718.3 L1146.0 718.9 L1146.5 718.9 L1147.0 718.5 L1147.5 718.6 L1148.0 718.7 L1148.5 719.0 L1149.0 718.7 L1149.5 718.4 L1150.0 719.0 L1150.5 718.4 L1151.0 719.2 L1151.5 718.6 L1152.0 718.9 L1152.5 719.6 L1153.0 717.9 L1153.5 718.4 L1154.0 718.8 L1154.5 719.0 L1155.0 718.6 L1155.5 718.6 L1156.0 718.7 L1156.5 718.5 L1157.0 719.1 L1157.5 718.7 L1158.0 719.0 L1158.5 719.1 L1159.0 719.4 L1159.5 718.7 L1160.0 718.8 L1160.5 719.3 L1161.0 718.0 L1161.5 719.1 L1162.0 718.6 L1162.5 719.5 L1163.0 718.9 L1163.5 718.6 L1164.0 719.6 L1164.5 718.8 L1165.0 718.6 L1165.5 719.3 L1166.0 718.1 L1166.5 719.0 L1167.0 719.4 L1167.5 718.5 L1168.0 719.5 L1168.5 718.9 L1169.0 718.8 L1169.5 718.2 L1170.0 719.8 L1170.5 719.7 L1171.0 718.9 L1171.5 719.3 L1172.0 718.1 L1172.5 719.1 L1173.0 719.3 L1173.5 718.7 L1174.0 718.8 L1174.5 719.0 L1175.0 718.7 L1175.5 718.2 L1176.0 719.4 L1176.5 719.5 L1177.0 719.3 L1177.5 719.4 L1178.0 719.6 L1178.5 718.9 L1179.0 717.6 L1179.5 719.1 L1180.0 718.8 L1180.5 718.5 L1181.0 719.3 L1181.5 718.6 L1182.0 718.5 L1182.5 720.2 L1183.0 718.8 L1183.5 719.1 L1184.0 719.3 L1184.5 719.3 L1185.0 719.0 L1185.5 719.3 L1186.0 719.0 L1186.5 718.8 L1187.0 718.9 L1187.5 719.3 L1188.0 719.4 L1188.5 719.2 L1189.0 718.3 L1189.5 718.9 L1190.0 719.2 L1190.5 718.8 L1191.0 719.2 L1191.5 719.0 L1192.0 719.6 L1192.5 717.8 L1193.0 719.0 L1193.5 719.5 L1194.0 719.3 L1194.5 718.7 L1195.0 718.8 L1195.5 718.7 L1196.0 719.1 L1196.5 719.3 L1197.0 718.6 L1197.5 719.4 L1198.0 719.1 L1198.5 717.8 L1199.0 718.6 L1199.5 718.7 L1200.0 718.4 L1200.5 718.7 L1201.0 718.6 L1201.5 718.6 L1202.0 718.4 L1202.5 718.6 L1203.0 718.0 L1203.5 718.5 L1204.0 717.1 L1204.5 717.8 L1205.0 717.3 L1205.5 717.0 L1206.0 716.9 L1206.5 716.0 L1207.0 714.2 L1207.5 714.4 L1208.0 714.3 L1208.5 713.4 L1209.0 712.5 L1209.5 711.5 L1210.0 711.2 L1210.5 709.9 L1211.0 708.5 L1211.5 707.8 L1212.0 708.0 L1212.5 707.1 L1213.0 706.9 L1213.5 706.7 L1214.0 706.9 L1214.5 706.9 L1215.0 707.3 L1215.5 708.1 L1216.0 709.0 L1216.5 711.2 L1217.0 711.6 L1217.5 712.2 L1218.0 713.0 L1218.5 713.1 L1219.0 715.1 L1219.5 714.5 L1220.0 716.5 L1220.5 716.3 L1221.0 716.3 L1221.5 718.1 L1222.0 717.2 L1222.5 717.8 L1223.0 718.0 L1223.5 717.5 L1224.0 718.6 L1224.5 717.8 L1225.0 718.5 L1225.5 718.1 L1226.0 719.5 L1226.5 718.8 L1227.0 719.5 L1227.5 718.5 L1228.0 718.9 L1228.5 719.1 L1229.0 718.9 L1229.5 718.7 L1230.0 719.4 L1230.5 719.1 L1231.0 719.0 L1231.5 719.3 L1232.0 717.6 L1232.5 718.4 L1233.0 719.2 L1233.5 718.8 L1234.0 718.8 L1234.5 718.3 L1235.0 718.8 L1235.5 719.7 L1236.0 718.8 L1236.5 718.5 L1237.0 718.9 L1237.5 719.5 L1238.0 718.7 L1238.5 718.2 L1239.0 719.2 L1239.5 718.9 L1240.0 719.1 L1240.5 718.2 L1241.0 718.5 L1241.5 718.9 L1242.0 719.2 L1242.5 719.9 L1243.0 719.7 L1243.5 719.6 L1244.0 719.5 L1244.5 719.6 L1245.0 719.4 L1245.5 719.4 L1246.0 718.9 L1246.5 718.8 L1247.0 719.7 L1247.5 718.5 L1248.0 718.8 L1248.5 719.0 L1249.0 719.2 L1249.5 718.8 L1250.0 718.9 L1250.5 718.7 L1251.0 718.7 L1251.5 718.9 L1252.0 720.8 L1252.5 718.5 L1253.0 720.3 L1253.5 718.5 L1254.0 719.2 L1254.5 719.1 L1255.0 719.4 L1255.5 719.0 L1256.0 718.6 L1256.5 718.8 L1257.0 719.0 L1257.5 718.4 L1258.0 719.1 L1258.5 719.2 L1259.0 718.4 L1259.5 718.5 L1260.0 719.5 L1260.5 718.7 L1261.0 718.8 L1261.5 718.8 L1262.0 718.8 L1262.5 719.4 L1263.0 719.2 L1263.5 720.2 L1264.0 719.0 L1264.5 719.3 L1265.0 718.8 L1265.5 719.6 L1266.0 718.4 L1266.5 718.7 L1267.0 719.0 L1267.5 720.5 L1268.0 720.2 L1268.5 720.1 L1269.0 719.1 L1269.5 718.4 L1270.0 719.4 L1270.5 719.7 L1271.0 718.8 L1271.5 720.1 L1272.0 720.1 L1272.5 718.3 L1273.0 718.9 L1273.5 719.0 L1274.0 719.0 L1274.5 719.1 L1275.0 719.2 L1275.5 719.0 L1276.0 720.4 L1276.5 718.9 L1277.0 718.5 L1277.5 719.7 L1278.0 719.6 L1278.5 718.6 L1279.0 718.7 L1279.5 718.7 L1280.0 718.1 L1280.5 718.5 L1281.0 719.4 L1281.5 718.5 L1282.0 719.0 L1282.5 719.0 L1283.0 718.9 L1283.5 719.4 L1284.0 719.2 L1284.5 719.8 L1285.0 719.3 L1285.5 718.9 L1286.0 720.0 L1286.5 719.3 L1287.0 719.4 L1287.5 719.3 L1288.0 719.0 L1288.5 718.7 L1289.0 719.8 L1289.5 718.8 L1290.0 719.0 L1290.5 719.6 L1291.0 719.6 L1291.5 719.2 L1292.0 720.1 L1292.5 719.0 L1293.0 720.3 L1293.5 719.8 L1294.0 719.2 L1294.5 719.0 L1295.0 719.7 L1295.5 718.3 L1296.0 719.5 L1296.5 719.5 L1297.0 719.9 L1297.5 719.9 L1298.0 719.3 L1298.5 719.4 L1299.0 718.7 L1299.5 719.4 L1300.0 718.8 L1300.5 718.5 L1301.0 720.0 L1301.5 720.0 L1302.0 719.1 L1302.5 719.3 L1303.0 720.3 L1303.5 718.5 L1304.0 719.9 L1304.5 719.0 L1305.0 719.5 L1305.5 719.1 L1306.0 719.9 L1306.5 719.8 L1307.0 719.1 L1307.5 719.8 L1308.0 719.6 L1308.5 719.9 L1309.0 718.6 L1309.5 719.6 L1310.0 719.2 L1310.5 719.3 L1311.0 718.4 L1311.5 720.2 L1312.0 719.1 L1312.5 719.4 L1313.0 718.4 L1313.5 719.1 L1314.0 719.3 L1314.5 719.2 L1315.0 718.6 L1315.5 719.3 L1316.0 719.0 L1316.5 719.6 L1317.0 718.6 L1317.5 719.7 L1318.0 718.7 L1318.5 718.6 L1319.0 719.4 L1319.5 719.5 L1320.0 719.4 L1320.5 718.9 L1321.0 719.0 L1321.5 718.7 L1322.0 719.7 L1322.5 718.3 L1323.0 718.6 L1323.5 718.6 L1324.0 719.4 L1324.5 718.4 L1325.0 719.6 L1325.5 718.3 L1326.0 718.3 L1326.5 719.3 L1327.0 719.4 L1327.5 719.0 L1328.0 719.8 L1328.5 718.9 L1329.0 718.9 L1329.5 719.1 L1330.0 719.8 L1330.5 719.1 L1331.0 720.1 L1331.5 719.9 L1332.0 719.7 L1332.5 719.6 L1333.0 719.8 L1333.5 719.4 L1334.0 718.0 L1334.5 719.3 L1335.0 719.1 L1335.5 718.6 L1336.0 718.2 L1336.5 719.2 L1337.0 718.6 L1337.5 719.2 L1338.0 718.8 L1338.5 719.3 L1339.0 718.7 L1339.5 719.3 L1340.0 719.1 L1340.5 718.9 L1341.0 719.0 L1341.5 719.3 L1342.0 717.8 L1342.5 718.2 L1343.0 719.2 L1343.5 719.2 L1344.0 719.3 L1344.5 719.3 L1345.0 718.7 L1345.5 719.8 L1346.0 719.5 L1346.5 719.3 L1347.0 719.0 L1347.5 718.8 L1348.0 718.9 L1348.5 719.4" fill="none" stroke="#525252" stroke-width="2.6" stroke-linejoin="round"/>
<path d="M97.0 955.2 L97.5 953.5 L98.0 954.1 L98.5 954.0 L99.0 954.4 L99.5 953.2 L100.0 953.7 L100.5 953.6 L101.0 953.4 L101.5 953.5 L102.0 953.7 L102.5 953.9 L103.0 953.5 L103.5 954.3 L104.0 953.7 L104.5 952.3 L105.0 954.7 L105.5 953.9 L106.0 953.7 L106.5 954.2 L107.0 954.2 L107.5 954.1 L108.0 953.7 L108.5 954.2 L109.0 953.3 L109.5 954.9 L110.0 953.5 L110.5 954.1 L111.0 954.2 L111.5 954.3 L112.0 954.1 L112.5 954.5 L113.0 952.3 L113.5 954.1 L114.0 954.1 L114.5 954.0 L115.0 955.0 L115.5 953.7 L116.0 954.2 L116.5 953.1 L117.0 954.4 L117.5 953.4 L118.0 953.4 L118.5 955.5 L119.0 954.7 L119.5 954.3 L120.0 954.4 L120.5 953.5 L121.0 953.7 L121.5 954.6 L122.0 953.2 L122.5 954.5 L123.0 953.4 L123.5 954.4 L124.0 953.8 L124.5 955.3 L125.0 954.9 L125.5 954.1 L126.0 953.4 L126.5 954.0 L127.0 954.4 L127.5 953.9 L128.0 954.6 L128.5 955.0 L129.0 954.4 L129.5 954.2 L130.0 954.9 L130.5 954.3 L131.0 955.0 L131.5 954.3 L132.0 955.4 L132.5 954.4 L133.0 954.0 L133.5 954.6 L134.0 954.2 L134.5 954.1 L135.0 954.5 L135.5 955.0 L136.0 953.4 L136.5 954.6 L137.0 954.5 L137.5 954.5 L138.0 955.0 L138.5 953.9 L139.0 955.0 L139.5 954.5 L140.0 954.7 L140.5 954.5 L141.0 954.5 L141.5 954.4 L142.0 954.9 L142.5 955.8 L143.0 955.3 L143.5 955.2 L144.0 955.0 L144.5 954.5 L145.0 955.1 L145.5 955.8 L146.0 954.1 L146.5 955.2 L147.0 955.3 L147.5 954.9 L148.0 955.2 L148.5 955.5 L149.0 956.0 L149.5 955.5 L150.0 955.7 L150.5 955.0 L151.0 955.3 L151.5 955.0 L152.0 955.0 L152.5 954.6 L153.0 955.2 L153.5 955.7 L154.0 954.8 L154.5 955.0 L155.0 955.2 L155.5 954.9 L156.0 955.4 L156.5 955.1 L157.0 954.3 L157.5 954.4 L158.0 955.4 L158.5 955.3 L159.0 955.6 L159.5 955.1 L160.0 955.1 L160.5 954.2 L161.0 955.7 L161.5 954.6 L162.0 955.6 L162.5 954.5 L163.0 954.7 L163.5 955.1 L164.0 954.8 L164.5 954.7 L165.0 955.5 L165.5 955.4 L166.0 955.3 L166.5 954.9 L167.0 954.7 L167.5 954.9 L168.0 954.9 L168.5 955.1 L169.0 955.5 L169.5 955.1 L170.0 954.8 L170.5 954.8 L171.0 955.8 L171.5 955.3 L172.0 955.3 L172.5 955.3 L173.0 955.5 L173.5 955.3 L174.0 955.8 L174.5 955.6 L175.0 953.8 L175.5 955.2 L176.0 956.7 L176.5 954.6 L177.0 955.3 L177.5 955.8 L178.0 955.3 L178.5 955.9 L179.0 954.6 L179.5 954.7 L180.0 955.2 L180.5 954.9 L181.0 954.8 L181.5 955.6 L182.0 955.5 L182.5 955.3 L183.0 955.1 L183.5 955.5 L184.0 955.3 L184.5 955.0 L185.0 955.6 L185.5 955.5 L186.0 955.4 L186.5 955.7 L187.0 954.8 L187.5 955.3 L188.0 955.1 L188.5 956.1 L189.0 955.7 L189.5 956.5 L190.0 956.2 L190.5 955.2 L191.0 954.9 L191.5 955.7 L192.0 955.3 L192.5 955.4 L193.0 954.9 L193.5 955.8 L194.0 955.6 L194.5 955.7 L195.0 955.6 L195.5 955.0 L196.0 954.4 L196.5 955.4 L197.0 955.2 L197.5 955.2 L198.0 956.0 L198.5 955.5 L199.0 956.3 L199.5 955.6 L200.0 955.9 L200.5 955.8 L201.0 955.9 L201.5 954.9 L202.0 956.1 L202.5 955.6 L203.0 955.1 L203.5 955.9 L204.0 955.7 L204.5 956.2 L205.0 955.9 L205.5 955.8 L206.0 954.8 L206.5 956.4 L207.0 956.3 L207.5 956.0 L208.0 955.8 L208.5 956.2 L209.0 955.2 L209.5 956.0 L210.0 955.6 L210.5 955.2 L211.0 955.8 L211.5 955.8 L212.0 956.5 L212.5 956.1 L213.0 954.9 L213.5 954.7 L214.0 955.6 L214.5 955.6 L215.0 955.2 L215.5 955.0 L216.0 955.6 L216.5 955.1 L217.0 955.4 L217.5 956.1 L218.0 955.8 L218.5 955.4 L219.0 955.2 L219.5 955.6 L220.0 956.6 L220.5 955.5 L221.0 956.6 L221.5 955.4 L222.0 955.7 L222.5 956.1 L223.0 955.4 L223.5 955.8 L224.0 955.1 L224.5 956.1 L225.0 956.3 L225.5 955.5 L226.0 955.9 L226.5 955.6 L227.0 954.8 L227.5 957.1 L228.0 956.1 L228.5 956.2 L229.0 956.0 L229.5 955.9 L230.0 956.9 L230.5 955.0 L231.0 955.7 L231.5 955.6 L232.0 955.7 L232.5 956.2 L233.0 955.5 L233.5 955.2 L234.0 955.3 L234.5 956.1 L235.0 956.3 L235.5 956.3 L236.0 956.6 L236.5 955.6 L237.0 956.4 L237.5 956.2 L238.0 955.8 L238.5 955.6 L239.0 956.3 L239.5 955.6 L240.0 955.8 L240.5 955.5 L241.0 956.7 L241.5 955.9 L242.0 955.7 L242.5 955.8 L243.0 955.8 L243.5 956.0 L244.0 955.2 L244.5 955.4 L245.0 956.2 L245.5 956.5 L246.0 955.5 L246.5 956.0 L247.0 955.7 L247.5 954.9 L248.0 955.8 L248.5 955.5 L249.0 956.4 L249.5 955.9 L250.0 956.0 L250.5 955.3 L251.0 956.1 L251.5 955.1 L252.0 956.1 L252.5 956.6 L253.0 955.5 L253.5 956.4 L254.0 956.7 L254.5 955.9 L255.0 956.5 L255.5 956.1 L256.0 955.8 L256.5 955.1 L257.0 955.6 L257.5 955.4 L258.0 957.1 L258.5 956.2 L259.0 956.0 L259.5 955.5 L260.0 956.8 L260.5 955.5 L261.0 956.7 L261.5 956.6 L262.0 956.1 L262.5 955.8 L263.0 956.1 L263.5 955.5 L264.0 956.4 L264.5 956.9 L265.0 956.5 L265.5 956.6 L266.0 955.8 L266.5 956.3 L267.0 955.7 L267.5 955.9 L268.0 956.5 L268.5 957.2 L269.0 956.2 L269.5 956.2 L270.0 955.3 L270.5 956.2 L271.0 955.7 L271.5 955.5 L272.0 955.5 L272.5 956.2 L273.0 956.0 L273.5 956.5 L274.0 956.1 L274.5 956.2 L275.0 956.8 L275.5 956.5 L276.0 956.5 L276.5 956.8 L277.0 956.3 L277.5 955.7 L278.0 955.8 L278.5 955.5 L279.0 956.4 L279.5 956.0 L280.0 956.4 L280.5 956.6 L281.0 955.8 L281.5 956.3 L282.0 956.8 L282.5 956.3 L283.0 956.6 L283.5 956.1 L284.0 955.8 L284.5 956.1 L285.0 955.4 L285.5 956.5 L286.0 956.0 L286.5 956.8 L287.0 955.7 L287.5 956.3 L288.0 956.4 L288.5 956.2 L289.0 956.4 L289.5 955.9 L290.0 955.8 L290.5 955.6 L291.0 956.0 L291.5 955.9 L292.0 956.4 L292.5 956.1 L293.0 956.0 L293.5 956.0 L294.0 955.5 L294.5 956.1 L295.0 956.5 L295.5 955.7 L296.0 956.2 L296.5 956.6 L297.0 956.0 L297.5 956.4 L298.0 956.1 L298.5 957.4 L299.0 956.9 L299.5 956.8 L300.0 956.0 L300.5 956.6 L301.0 956.2 L301.5 956.5 L302.0 956.1 L302.5 956.4 L303.0 956.0 L303.5 956.5 L304.0 957.1 L304.5 955.7 L305.0 955.8 L305.5 956.6 L306.0 956.7 L306.5 956.2 L307.0 956.6 L307.5 956.5 L308.0 956.6 L308.5 956.9 L309.0 956.1 L309.5 956.6 L310.0 956.4 L310.5 956.1 L311.0 956.6 L311.5 955.8 L312.0 955.7 L312.5 956.8 L313.0 955.9 L313.5 957.1 L314.0 956.8 L314.5 956.1 L315.0 956.0 L315.5 955.4 L316.0 956.3 L316.5 955.7 L317.0 957.0 L317.5 955.7 L318.0 956.4 L318.5 955.2 L319.0 956.2 L319.5 956.9 L320.0 956.2 L320.5 956.0 L321.0 956.2 L321.5 956.5 L322.0 956.8 L322.5 956.3 L323.0 955.5 L323.5 956.5 L324.0 956.8 L324.5 957.4 L325.0 956.5 L325.5 956.5 L326.0 956.2 L326.5 956.7 L327.0 957.1 L327.5 956.0 L328.0 956.4 L328.5 956.0 L329.0 956.1 L329.5 956.3 L330.0 956.6 L330.5 956.0 L331.0 956.3 L331.5 957.0 L332.0 956.6 L332.5 956.7 L333.0 956.6 L333.5 956.3 L334.0 956.6 L334.5 956.6 L335.0 956.4 L335.5 956.8 L336.0 956.4 L336.5 956.8 L337.0 956.4 L337.5 956.7 L338.0 956.1 L338.5 956.1 L339.0 955.9 L339.5 956.9 L340.0 956.6 L340.5 956.4 L341.0 956.6 L341.5 956.0 L342.0 956.4 L342.5 956.1 L343.0 955.6 L343.5 956.2 L344.0 956.0 L344.5 956.9 L345.0 956.0 L345.5 956.0 L346.0 956.7 L346.5 956.3 L347.0 955.7 L347.5 956.3 L348.0 955.9 L348.5 956.9 L349.0 955.8 L349.5 955.9 L350.0 955.1 L350.5 955.9 L351.0 956.9 L351.5 956.1 L352.0 955.7 L352.5 956.2 L353.0 955.9 L353.5 956.0 L354.0 957.0 L354.5 956.8 L355.0 956.5 L355.5 956.5 L356.0 955.4 L356.5 955.0 L357.0 956.0 L357.5 955.8 L358.0 955.5 L358.5 955.4 L359.0 955.6 L359.5 955.4 L360.0 955.2 L360.5 955.1 L361.0 954.7 L361.5 954.4 L362.0 954.8 L362.5 953.9 L363.0 954.4 L363.5 953.3 L364.0 952.4 L364.5 951.9 L365.0 949.8 L365.5 947.7 L366.0 944.3 L366.5 939.6 L367.0 933.1 L367.5 924.8 L368.0 913.6 L368.5 901.4 L369.0 890.6 L369.5 882.5 L369.9 881.1 L370.0 881.6 L370.5 886.1 L371.0 895.2 L371.3 901.8 L371.5 906.6 L372.0 918.0 L372.5 928.0 L373.0 936.0 L373.5 941.9 L374.0 945.6 L374.5 949.2 L375.0 951.2 L375.5 951.3 L376.0 952.7 L376.5 952.9 L377.0 954.0 L377.5 954.0 L378.0 955.0 L378.5 955.1 L379.0 954.7 L379.5 954.9 L380.0 955.0 L380.5 955.6 L381.0 955.1 L381.5 955.7 L382.0 955.1 L382.5 956.1 L383.0 956.0 L383.5 955.4 L384.0 955.6 L384.5 956.0 L385.0 956.1 L385.5 954.9 L386.0 956.2 L386.5 956.7 L387.0 956.0 L387.5 955.7 L388.0 956.7 L388.5 956.3 L389.0 956.3 L389.5 956.5 L390.0 955.8 L390.5 956.1 L391.0 955.9 L391.5 955.9 L392.0 956.3 L392.5 956.0 L393.0 957.0 L393.5 956.6 L394.0 956.7 L394.5 955.8 L395.0 956.4 L395.5 956.4 L396.0 956.5 L396.5 956.7 L397.0 956.2 L397.5 956.2 L398.0 956.9 L398.5 957.4 L399.0 957.3 L399.5 956.4 L400.0 956.2 L400.5 956.6 L401.0 956.7 L401.5 957.2 L402.0 956.5 L402.5 956.3 L403.0 957.0 L403.5 956.3 L404.0 956.2 L404.5 956.8 L405.0 956.5 L405.5 956.2 L406.0 956.5 L406.5 956.4 L407.0 956.5 L407.5 956.3 L408.0 956.8 L408.5 956.5 L409.0 956.4 L409.5 957.0 L410.0 956.2 L410.5 956.9 L411.0 956.8 L411.5 956.5 L412.0 956.7 L412.5 956.0 L413.0 956.7 L413.5 956.2 L414.0 956.2 L414.5 956.6 L415.0 956.3 L415.5 956.6 L416.0 956.6 L416.5 956.9 L417.0 956.6 L417.5 956.8 L418.0 956.0 L418.5 956.1 L419.0 956.3 L419.5 956.3 L420.0 955.8 L420.5 955.1 L421.0 954.5 L421.5 954.0 L422.0 954.2 L422.5 952.9 L423.0 952.5 L423.5 952.2 L424.0 951.7 L424.5 951.0 L425.0 951.9 L425.5 951.4 L426.0 951.8 L426.5 952.5 L427.0 952.7 L427.5 953.7 L428.0 954.0 L428.5 954.3 L429.0 954.7 L429.5 955.6 L430.0 955.8 L430.5 955.9 L431.0 956.0 L431.5 956.2 L432.0 956.6 L432.5 956.8 L433.0 956.3 L433.5 956.5 L434.0 955.8 L434.5 956.1 L435.0 956.2 L435.5 956.2 L436.0 956.7 L436.5 955.8 L437.0 956.6 L437.5 956.7 L438.0 957.2 L438.5 956.2 L439.0 956.5 L439.5 956.8 L440.0 956.6 L440.5 955.9 L441.0 956.0 L441.5 955.5 L442.0 955.8 L442.5 955.8 L443.0 955.8 L443.5 955.3 L444.0 955.0 L444.5 954.7 L445.0 953.6 L445.5 953.6 L446.0 953.2 L446.5 952.2 L447.0 951.2 L447.5 950.9 L448.0 950.2 L448.5 949.7 L449.0 948.1 L449.5 947.9 L450.0 948.0 L450.5 947.2 L451.0 946.1 L451.5 945.5 L452.0 944.9 L452.5 944.1 L453.0 943.6 L453.5 943.0 L454.0 941.6 L454.5 940.7 L455.0 939.3 L455.5 936.8 L456.0 934.7 L456.5 931.8 L457.0 929.8 L457.5 927.5 L458.0 925.7 L458.5 925.5 L458.6 925.6 L459.0 926.7 L459.5 929.0 L460.0 931.5 L460.5 935.4 L461.0 938.6 L461.5 941.8 L461.8 944.2 L462.0 945.7 L462.5 948.1 L463.0 950.2 L463.5 951.6 L464.0 952.4 L464.5 953.5 L465.0 953.9 L465.5 955.0 L466.0 954.2 L466.5 955.4 L467.0 955.3 L467.5 955.8 L468.0 956.1 L468.5 955.7 L469.0 956.4 L469.5 956.4 L470.0 955.6 L470.5 956.8 L471.0 955.8 L471.5 955.8 L472.0 956.6 L472.5 956.1 L473.0 956.5 L473.5 956.4 L474.0 956.1 L474.5 957.0 L475.0 957.0 L475.5 956.6 L476.0 957.1 L476.5 956.6 L477.0 956.7 L477.5 956.5 L478.0 956.2 L478.5 956.5 L479.0 956.4 L479.5 956.8 L480.0 956.7 L480.5 956.5 L481.0 957.1 L481.5 956.8 L482.0 957.3 L482.5 956.6 L483.0 956.6 L483.5 956.5 L484.0 956.8 L484.5 956.7 L485.0 956.8 L485.5 957.3 L486.0 957.0 L486.5 956.6 L487.0 956.9 L487.5 956.7 L488.0 956.7 L488.5 956.8 L489.0 956.8 L489.5 957.0 L490.0 957.2 L490.5 956.9 L491.0 956.6 L491.5 956.8 L492.0 956.8 L492.5 956.8 L493.0 956.5 L493.5 956.8 L494.0 956.3 L494.5 957.3 L495.0 957.1 L495.5 957.1 L496.0 956.6 L496.5 957.0 L497.0 957.3 L497.5 956.8 L498.0 956.6 L498.5 956.9 L499.0 956.2 L499.5 957.2 L500.0 957.0 L500.5 956.5 L501.0 957.1 L501.5 957.3 L502.0 957.1 L502.5 957.1 L503.0 957.4 L503.5 957.0 L504.0 957.3 L504.5 956.9 L505.0 956.7 L505.5 956.8 L506.0 956.6 L506.5 957.0 L507.0 956.7 L507.5 957.0 L508.0 957.0 L508.5 957.4 L509.0 957.5 L509.5 956.8 L510.0 956.9 L510.5 956.9 L511.0 956.8 L511.5 957.5 L512.0 957.3 L512.5 956.9 L513.0 956.5 L513.5 956.8 L514.0 957.0 L514.5 957.4 L515.0 956.6 L515.5 957.4 L516.0 956.5 L516.5 957.1 L517.0 956.6 L517.5 956.8 L518.0 956.2 L518.5 957.1 L519.0 957.0 L519.5 956.7 L520.0 956.3 L520.5 956.9 L521.0 957.0 L521.5 956.5 L522.0 957.1 L522.5 956.9 L523.0 956.6 L523.5 956.7 L524.0 956.2 L524.5 957.2 L525.0 957.3 L525.5 956.9 L526.0 956.6 L526.5 956.6 L527.0 956.9 L527.5 956.7 L528.0 957.1 L528.5 956.7 L529.0 957.2 L529.5 957.3 L530.0 956.8 L530.5 956.7 L531.0 956.1 L531.5 957.0 L532.0 957.1 L532.5 956.7 L533.0 957.3 L533.5 956.8 L534.0 956.7 L534.5 957.2 L535.0 957.1 L535.5 956.4 L536.0 956.8 L536.5 956.6 L537.0 956.9 L537.5 957.0 L538.0 956.9 L538.5 957.0 L539.0 957.3 L539.5 956.9 L540.0 956.6 L540.5 956.7 L541.0 957.2 L541.5 957.5 L542.0 957.0 L542.5 957.1 L543.0 956.8 L543.5 956.8 L544.0 957.3 L544.5 956.9 L545.0 957.1 L545.5 957.0 L546.0 957.3 L546.5 957.1 L547.0 957.0 L547.5 956.9 L548.0 956.9 L548.5 957.3 L549.0 957.6 L549.5 956.6 L550.0 957.3 L550.5 956.7 L551.0 956.8 L551.5 956.9 L552.0 956.9 L552.5 956.9 L553.0 956.9 L553.5 957.5 L554.0 956.6 L554.5 956.8 L555.0 956.8 L555.5 957.1 L556.0 956.7 L556.5 957.0 L557.0 957.1 L557.5 957.6 L558.0 957.2 L558.5 957.0 L559.0 957.1 L559.5 957.5 L560.0 957.0 L560.5 956.8 L561.0 956.9 L561.5 956.9 L562.0 957.3 L562.5 956.8 L563.0 956.9 L563.5 957.0 L564.0 956.8 L564.5 957.2 L565.0 956.9 L565.5 957.2 L566.0 957.2 L566.5 957.4 L567.0 957.5 L567.5 956.8 L568.0 956.7 L568.5 956.7 L569.0 957.2 L569.5 957.2 L570.0 957.0 L570.5 957.0 L571.0 957.4 L571.5 957.3 L572.0 957.1 L572.5 957.2 L573.0 956.6 L573.5 957.4 L574.0 957.6 L574.5 957.1 L575.0 956.9 L575.5 957.4 L576.0 956.9 L576.5 957.1 L577.0 957.2 L577.5 957.0 L578.0 957.2 L578.5 956.5 L579.0 956.4 L579.5 957.2 L580.0 957.2 L580.5 957.1 L581.0 957.0 L581.5 957.1 L582.0 957.2 L582.5 956.8 L583.0 957.1 L583.5 956.9 L584.0 957.6 L584.5 957.2 L585.0 957.1 L585.5 957.3 L586.0 957.3 L586.5 957.3 L587.0 956.9 L587.5 957.1 L588.0 957.3 L588.5 957.1 L589.0 957.1 L589.5 956.9 L590.0 957.1 L590.5 957.4 L591.0 956.8 L591.5 956.7 L592.0 956.8 L592.5 956.7 L593.0 957.4 L593.5 957.5 L594.0 957.2 L594.5 957.1 L595.0 957.4 L595.5 957.3 L596.0 956.5 L596.5 957.1 L597.0 957.7 L597.5 957.0 L598.0 956.9 L598.5 956.9 L599.0 957.5 L599.5 957.0 L600.0 957.2 L600.5 957.4 L601.0 957.1 L601.5 957.1 L602.0 956.8 L602.5 956.8 L603.0 957.3 L603.5 956.8 L604.0 957.3 L604.5 957.4 L605.0 957.5 L605.5 957.0 L606.0 956.9 L606.5 957.1 L607.0 957.4 L607.5 957.2 L608.0 957.2 L608.5 957.1 L609.0 957.3 L609.5 956.6 L610.0 956.8 L610.5 957.5 L611.0 957.2 L611.5 957.3 L612.0 956.6 L612.5 956.9 L613.0 957.0 L613.5 957.1 L614.0 957.4 L614.5 956.9 L615.0 957.1 L615.5 956.9 L616.0 957.0 L616.5 957.2 L617.0 957.2 L617.5 957.3 L618.0 956.8 L618.5 957.3 L619.0 957.2 L619.5 956.9 L620.0 957.4 L620.5 956.9 L621.0 957.0 L621.5 957.2 L622.0 957.4 L622.5 957.0 L623.0 957.5 L623.5 957.2 L624.0 956.9 L624.5 957.3 L625.0 957.1 L625.5 956.9 L626.0 957.1 L626.5 957.4 L627.0 957.2 L627.5 957.0 L628.0 957.3 L628.5 956.8 L629.0 957.3 L629.5 957.4 L630.0 956.8 L630.5 956.8 L631.0 956.9 L631.5 957.0 L632.0 956.9 L632.5 957.1 L633.0 956.9 L633.5 957.2 L634.0 957.2 L634.5 957.2 L635.0 957.0 L635.5 957.3 L636.0 956.7 L636.5 956.9 L637.0 957.1 L637.5 957.4 L638.0 957.0 L638.5 957.3 L639.0 957.5 L639.5 957.6 L640.0 957.5 L640.5 956.9 L641.0 957.2 L641.5 957.2 L642.0 957.3 L642.5 957.2 L643.0 957.1 L643.5 957.1 L644.0 956.8 L644.5 957.3 L645.0 957.2 L645.5 957.0 L646.0 957.6 L646.5 957.1 L647.0 957.0 L647.5 957.3 L648.0 957.2 L648.5 957.3 L649.0 957.1 L649.5 957.3 L650.0 957.1 L650.5 957.4 L651.0 957.2 L651.5 956.9 L652.0 956.9 L652.5 957.3 L653.0 957.3 L653.5 956.8 L654.0 957.3 L654.5 957.1 L655.0 957.2 L655.5 956.9 L656.0 956.8 L656.5 957.0 L657.0 956.9 L657.5 957.0 L658.0 957.1 L658.5 957.1 L659.0 957.6 L659.5 956.9 L660.0 957.0 L660.5 957.1 L661.0 957.3 L661.5 956.9 L662.0 956.8 L662.5 957.2 L663.0 957.2 L663.5 957.3 L664.0 957.3 L664.5 956.7 L665.0 957.4 L665.5 957.1 L666.0 957.6 L666.5 957.0 L667.0 956.6 L667.5 957.1 L668.0 957.2 L668.5 957.2 L669.0 957.2 L669.5 957.0 L670.0 956.7 L670.5 957.1 L671.0 957.0 L671.5 957.0 L672.0 957.1 L672.5 957.1 L673.0 956.6 L673.5 956.9 L674.0 956.9 L674.5 957.1 L675.0 957.5 L675.5 957.1 L676.0 957.3 L676.5 956.6 L677.0 957.4 L677.5 957.0 L678.0 957.3 L678.5 956.9 L679.0 957.1 L679.5 957.3 L680.0 957.1 L680.5 957.2 L681.0 956.9 L681.5 957.0 L682.0 957.2 L682.5 957.1 L683.0 957.2 L683.5 957.0 L684.0 957.0 L684.5 957.3 L685.0 957.5 L685.5 957.0 L686.0 957.0 L686.5 957.2 L687.0 957.4 L687.5 957.2 L688.0 957.4 L688.5 957.1 L689.0 956.9 L689.5 956.7 L690.0 957.3 L690.5 957.2 L691.0 957.0 L691.5 957.2 L692.0 956.9 L692.5 957.4 L693.0 957.4 L693.5 957.4 L694.0 957.0 L694.5 957.5 L695.0 957.3 L695.5 957.5 L696.0 956.7 L696.5 957.4 L697.0 957.5 L697.5 957.1 L698.0 957.4 L698.5 957.2 L699.0 957.5 L699.5 957.1 L700.0 957.2 L700.5 956.9 L701.0 957.6 L701.5 956.9 L702.0 956.9 L702.5 956.9 L703.0 957.2 L703.5 957.2 L704.0 957.2 L704.5 957.5 L705.0 957.4 L705.5 956.8 L706.0 957.2 L706.5 957.1 L707.0 957.3 L707.5 957.2 L708.0 957.5 L708.5 957.2 L709.0 957.6 L709.5 956.9 L710.0 957.4 L710.5 957.4 L711.0 957.0 L711.5 956.8 L712.0 957.0 L712.5 957.2 L713.0 957.5 L713.5 956.8 L714.0 957.1 L714.5 956.8 L715.0 957.3 L715.5 957.2 L716.0 957.2 L716.5 957.3 L717.0 957.2 L717.5 957.5 L718.0 957.1 L718.5 957.0 L719.0 957.1 L719.5 957.1 L720.0 957.5 L720.5 957.1 L721.0 957.0 L721.5 957.0 L722.0 957.0 L722.5 956.7 L723.0 957.2 L723.5 957.3 L724.0 957.2 L724.5 957.0 L725.0 957.4 L725.5 957.3 L726.0 957.2 L726.5 957.3 L727.0 957.1 L727.5 957.2 L728.0 957.3 L728.5 956.9 L729.0 957.0 L729.5 957.0 L730.0 957.2 L730.5 956.5 L731.0 957.2 L731.5 957.1 L732.0 957.1 L732.5 957.2 L733.0 956.8 L733.5 957.2 L734.0 957.0 L734.5 957.0 L735.0 957.5 L735.5 957.1 L736.0 957.4 L736.5 957.1 L737.0 957.1 L737.5 957.1 L738.0 956.8 L738.5 957.1 L739.0 957.2 L739.5 957.5 L740.0 957.3 L740.5 957.4 L741.0 956.9 L741.5 957.0 L742.0 957.2 L742.5 957.3 L743.0 956.9 L743.5 957.4 L744.0 957.0 L744.5 957.2 L745.0 957.0 L745.5 957.3 L746.0 957.4 L746.5 957.4 L747.0 956.9 L747.5 957.2 L748.0 957.7 L748.5 957.2 L749.0 957.3 L749.5 957.2 L750.0 957.0 L750.5 957.6 L751.0 957.5 L751.5 957.0 L752.0 957.3 L752.5 957.6 L753.0 957.3 L753.5 957.2 L754.0 957.4 L754.5 957.4 L755.0 956.9 L755.5 957.0 L756.0 957.5 L756.5 957.0 L757.0 957.1 L757.5 957.0 L758.0 957.6 L758.5 956.9 L759.0 957.2 L759.5 957.1 L760.0 957.1 L760.5 956.9 L761.0 957.0 L761.5 957.1 L762.0 957.2 L762.5 956.7 L763.0 957.2 L763.5 956.9 L764.0 957.1 L764.5 957.0 L765.0 957.1 L765.5 957.1 L766.0 957.3 L766.5 957.2 L767.0 956.7 L767.5 956.6 L768.0 956.8 L768.5 957.2 L769.0 956.7 L769.5 956.9 L770.0 957.6 L770.5 957.1 L771.0 957.1 L771.5 957.2 L772.0 957.3 L772.5 957.0 L773.0 957.2 L773.5 956.7 L774.0 957.2 L774.5 957.3 L775.0 956.7 L775.5 957.4 L776.0 957.6 L776.5 956.5 L777.0 957.1 L777.5 957.5 L778.0 957.3 L778.5 957.0 L779.0 957.0 L779.5 957.1 L780.0 957.3 L780.5 956.9 L781.0 956.8 L781.5 957.2 L782.0 957.0 L782.5 957.6 L783.0 956.9 L783.5 957.2 L784.0 957.1 L784.5 956.8 L785.0 957.0 L785.5 956.7 L786.0 957.3 L786.5 956.9 L787.0 956.9 L787.5 956.8 L788.0 957.5 L788.5 957.3 L789.0 956.9 L789.5 957.1 L790.0 957.3 L790.5 957.3 L791.0 957.2 L791.5 956.6 L792.0 957.6 L792.5 957.1 L793.0 957.5 L793.5 956.8 L794.0 957.4 L794.5 957.5 L795.0 957.4 L795.5 956.9 L796.0 957.1 L796.5 957.5 L797.0 957.0 L797.5 957.3 L798.0 957.1 L798.5 956.8 L799.0 957.4 L799.5 957.4 L800.0 957.3 L800.5 957.2 L801.0 957.4 L801.5 956.7 L802.0 957.1 L802.5 957.6 L803.0 957.3 L803.5 957.4 L804.0 957.1 L804.5 957.2 L805.0 956.9 L805.5 957.3 L806.0 957.2 L806.5 957.1 L807.0 957.2 L807.5 957.2 L808.0 957.2 L808.5 957.4 L809.0 957.4 L809.5 956.6 L810.0 957.2 L810.5 957.4 L811.0 956.9 L811.5 957.1 L812.0 957.8 L812.5 957.0 L813.0 957.4 L813.5 957.2 L814.0 956.8 L814.5 957.1 L815.0 956.7 L815.5 957.1 L816.0 957.4 L816.5 957.3 L817.0 957.2 L817.5 957.0 L818.0 957.3 L818.5 957.5 L819.0 957.4 L819.5 957.4 L820.0 957.3 L820.5 957.3 L821.0 956.9 L821.5 957.5 L822.0 956.9 L822.5 956.9 L823.0 957.0 L823.5 957.0 L824.0 957.5 L824.5 957.1 L825.0 957.1 L825.5 957.1 L826.0 957.2 L826.5 957.5 L827.0 957.5 L827.5 957.1 L828.0 957.6 L828.5 957.3 L829.0 957.2 L829.5 957.5 L830.0 957.2 L830.5 957.2 L831.0 957.2 L831.5 956.9 L832.0 956.8 L832.5 956.9 L833.0 956.9 L833.5 957.0 L834.0 957.0 L834.5 957.4 L835.0 957.2 L835.5 957.3 L836.0 957.2 L836.5 956.9 L837.0 957.1 L837.5 956.8 L838.0 956.7 L838.5 957.2 L839.0 957.1 L839.5 957.2 L840.0 957.4 L840.5 956.8 L841.0 957.1 L841.5 956.6 L842.0 956.9 L842.5 957.3 L843.0 956.8 L843.5 956.8 L844.0 957.1 L844.5 957.6 L845.0 957.3 L845.5 957.1 L846.0 957.3 L846.5 957.2 L847.0 957.0 L847.5 957.0 L848.0 957.2 L848.5 957.1 L849.0 957.3 L849.5 957.0 L850.0 957.3 L850.5 957.0 L851.0 957.4 L851.5 957.4 L852.0 956.9 L852.5 957.7 L853.0 957.2 L853.5 956.9 L854.0 956.8 L854.5 957.1 L855.0 957.1 L855.5 956.9 L856.0 956.8 L856.5 957.0 L857.0 956.8 L857.5 956.9 L858.0 956.8 L858.5 957.1 L859.0 956.4 L859.5 957.5 L860.0 956.8 L860.5 956.9 L861.0 956.5 L861.5 956.9 L862.0 956.5 L862.5 956.3 L863.0 955.9 L863.5 956.1 L864.0 955.8 L864.5 955.3 L865.0 955.6 L865.5 954.8 L866.0 955.1 L866.5 954.7 L867.0 954.1 L867.5 954.2 L868.0 954.2 L868.5 953.8 L869.0 953.7 L869.5 953.3 L870.0 953.1 L870.5 952.4 L871.0 952.6 L871.5 951.9 L872.0 951.9 L872.5 951.2 L873.0 951.2 L873.5 950.9 L874.0 951.4 L874.5 952.0 L875.0 952.1 L875.5 952.3 L876.0 952.8 L876.5 953.6 L877.0 953.9 L877.5 955.0 L878.0 954.9 L878.5 955.3 L879.0 955.8 L879.5 956.3 L880.0 955.8 L880.5 956.2 L881.0 956.3 L881.5 956.1 L882.0 956.7 L882.5 956.8 L883.0 957.1 L883.5 957.1 L884.0 957.1 L884.5 957.1 L885.0 956.9 L885.5 957.7 L886.0 957.4 L886.5 956.9 L887.0 956.8 L887.5 957.2 L888.0 957.3 L888.5 957.2 L889.0 957.3 L889.5 957.3 L890.0 957.2 L890.5 956.9 L891.0 957.0 L891.5 956.7 L892.0 957.3 L892.5 957.0 L893.0 957.2 L893.5 957.6 L894.0 956.9 L894.5 957.1 L895.0 956.9 L895.5 956.7 L896.0 957.4 L896.5 957.1 L897.0 957.1 L897.5 957.3 L898.0 957.1 L898.5 957.3 L899.0 957.4 L899.5 957.0 L900.0 957.2 L900.5 957.2 L901.0 957.4 L901.5 957.7 L902.0 956.9 L902.5 957.5 L903.0 957.2 L903.5 957.3 L904.0 957.2 L904.5 957.1 L905.0 956.8 L905.5 957.2 L906.0 956.9 L906.5 957.5 L907.0 957.3 L907.5 957.0 L908.0 957.1 L908.5 957.4 L909.0 956.8 L909.5 957.2 L910.0 957.2 L910.5 956.9 L911.0 957.4 L911.5 957.1 L912.0 957.4 L912.5 957.2 L913.0 957.0 L913.5 957.1 L914.0 957.4 L914.5 956.9 L915.0 957.0 L915.5 957.1 L916.0 957.3 L916.5 957.3 L917.0 956.9 L917.5 956.9 L918.0 957.1 L918.5 957.1 L919.0 957.2 L919.5 956.8 L920.0 957.0 L920.5 956.9 L921.0 957.6 L921.5 956.7 L922.0 956.9 L922.5 957.0 L923.0 956.7 L923.5 957.1 L924.0 957.0 L924.5 956.8 L925.0 957.0 L925.5 957.5 L926.0 957.2 L926.5 957.5 L927.0 957.5 L927.5 957.2 L928.0 957.1 L928.5 956.6 L929.0 956.7 L929.5 957.2 L930.0 957.2 L930.5 957.2 L931.0 957.0 L931.5 957.1 L932.0 956.9 L932.5 957.4 L933.0 957.2 L933.5 956.7 L934.0 957.0 L934.5 957.5 L935.0 956.9 L935.5 956.9 L936.0 956.9 L936.5 957.0 L937.0 957.2 L937.5 957.1 L938.0 957.2 L938.5 957.0 L939.0 957.3 L939.5 957.5 L940.0 957.0 L940.5 957.2 L941.0 957.2 L941.5 957.2 L942.0 957.2 L942.5 957.3 L943.0 957.1 L943.5 957.0 L944.0 957.0 L944.5 957.4 L945.0 957.0 L945.5 956.7 L946.0 957.1 L946.5 957.0 L947.0 957.4 L947.5 957.4 L948.0 956.9 L948.5 957.5 L949.0 957.3 L949.5 957.6 L950.0 957.0 L950.5 957.3 L951.0 957.4 L951.5 957.6 L952.0 956.9 L952.5 957.2 L953.0 957.2 L953.5 957.1 L954.0 957.0 L954.5 957.1 L955.0 957.2 L955.5 957.6 L956.0 957.2 L956.5 957.4 L957.0 957.1 L957.5 957.2 L958.0 957.2 L958.5 957.2 L959.0 956.8 L959.5 957.2 L960.0 957.8 L960.5 957.2 L961.0 956.9 L961.5 957.7 L962.0 957.3 L962.5 957.3 L963.0 956.8 L963.5 957.1 L964.0 957.1 L964.5 957.1 L965.0 956.9 L965.5 957.3 L966.0 956.9 L966.5 957.5 L967.0 957.2 L967.5 957.1 L968.0 956.8 L968.5 957.3 L969.0 957.3 L969.5 956.8 L970.0 957.6 L970.5 957.1 L971.0 956.8 L971.5 957.5 L972.0 956.9 L972.5 957.0 L973.0 956.8 L973.5 956.9 L974.0 957.1 L974.5 956.9 L975.0 957.2 L975.5 956.9 L976.0 957.1 L976.5 956.6 L977.0 957.0 L977.5 957.2 L978.0 957.3 L978.5 957.1 L979.0 957.2 L979.5 957.3 L980.0 957.0 L980.5 957.3 L981.0 957.2 L981.5 957.0 L982.0 956.9 L982.5 957.5 L983.0 957.4 L983.5 957.2 L984.0 957.4 L984.5 957.5 L985.0 957.1 L985.5 957.3 L986.0 957.3 L986.5 957.3 L987.0 957.1 L987.5 957.1 L988.0 957.4 L988.5 957.2 L989.0 957.6 L989.5 957.3 L990.0 957.2 L990.5 956.9 L991.0 957.1 L991.5 957.2 L992.0 957.1 L992.5 957.0 L993.0 956.5 L993.5 956.9 L994.0 957.2 L994.5 957.6 L995.0 956.9 L995.5 957.3 L996.0 956.9 L996.5 957.4 L997.0 957.1 L997.5 957.2 L998.0 957.3 L998.5 957.0 L999.0 957.0 L999.5 957.4 L1000.0 956.8 L1000.5 956.9 L1001.0 957.4 L1001.5 957.3 L1002.0 957.0 L1002.5 957.0 L1003.0 957.2 L1003.5 957.6 L1004.0 957.5 L1004.5 957.1 L1005.0 957.0 L1005.5 957.1 L1006.0 956.7 L1006.5 957.2 L1007.0 957.1 L1007.5 957.4 L1008.0 957.0 L1008.5 957.2 L1009.0 957.0 L1009.5 957.0 L1010.0 957.6 L1010.5 956.9 L1011.0 957.1 L1011.5 957.3 L1012.0 957.6 L1012.5 957.2 L1013.0 957.1 L1013.5 957.2 L1014.0 957.6 L1014.5 957.3 L1015.0 957.3 L1015.5 957.7 L1016.0 956.9 L1016.5 957.4 L1017.0 957.0 L1017.5 957.5 L1018.0 957.3 L1018.5 957.3 L1019.0 957.2 L1019.5 957.2 L1020.0 956.4 L1020.5 956.9 L1021.0 957.7 L1021.5 957.2 L1022.0 957.1 L1022.5 957.3 L1023.0 957.4 L1023.5 957.2 L1024.0 957.4 L1024.5 957.3 L1025.0 957.0 L1025.5 957.2 L1026.0 957.4 L1026.5 956.9 L1027.0 957.2 L1027.5 957.0 L1028.0 957.1 L1028.5 956.8 L1029.0 957.2 L1029.5 957.0 L1030.0 957.4 L1030.5 957.1 L1031.0 957.6 L1031.5 957.4 L1032.0 957.0 L1032.5 957.6 L1033.0 957.2 L1033.5 957.2 L1034.0 956.8 L1034.5 957.1 L1035.0 957.0 L1035.5 956.8 L1036.0 956.9 L1036.5 957.5 L1037.0 957.0 L1037.5 957.1 L1038.0 956.9 L1038.5 957.0 L1039.0 957.0 L1039.5 957.1 L1040.0 957.1 L1040.5 957.3 L1041.0 957.1 L1041.5 957.1 L1042.0 956.9 L1042.5 957.2 L1043.0 957.2 L1043.5 957.0 L1044.0 956.7 L1044.5 957.1 L1045.0 956.6 L1045.5 957.4 L1046.0 957.1 L1046.5 957.4 L1047.0 957.0 L1047.5 957.3 L1048.0 957.5 L1048.5 957.3 L1049.0 956.8 L1049.5 956.7 L1050.0 956.9 L1050.5 957.1 L1051.0 956.8 L1051.5 956.6 L1052.0 956.9 L1052.5 957.0 L1053.0 956.6 L1053.5 957.0 L1054.0 957.2 L1054.5 956.7 L1055.0 957.0 L1055.5 957.0 L1056.0 957.0 L1056.5 957.0 L1057.0 956.7 L1057.5 957.1 L1058.0 957.4 L1058.5 957.0 L1059.0 956.6 L1059.5 956.8 L1060.0 957.3 L1060.5 956.8 L1061.0 956.9 L1061.5 956.5 L1062.0 956.4 L1062.5 956.8 L1063.0 956.8 L1063.5 956.6 L1064.0 956.8 L1064.5 956.5 L1065.0 956.1 L1065.5 956.4 L1066.0 956.5 L1066.5 956.8 L1067.0 955.8 L1067.5 956.0 L1068.0 955.8 L1068.5 955.5 L1069.0 955.1 L1069.5 955.0 L1070.0 954.4 L1070.5 953.4 L1071.0 952.7 L1071.5 952.2 L1072.0 951.0 L1072.5 950.5 L1073.0 949.7 L1073.5 948.4 L1074.0 947.6 L1074.5 946.6 L1075.0 946.0 L1075.5 945.4 L1076.0 944.5 L1076.5 944.7 L1077.0 944.2 L1077.5 944.7 L1078.0 945.1 L1078.5 945.4 L1079.0 946.3 L1079.5 947.0 L1080.0 948.4 L1080.5 949.1 L1081.0 949.6 L1081.5 951.0 L1082.0 951.6 L1082.5 952.9 L1083.0 953.0 L1083.5 953.8 L1084.0 953.8 L1084.5 954.4 L1085.0 954.8 L1085.5 955.3 L1086.0 955.6 L1086.5 955.5 L1087.0 955.6 L1087.5 955.5 L1088.0 955.6 L1088.5 955.8 L1089.0 956.1 L1089.5 956.3 L1090.0 955.8 L1090.5 955.7 L1091.0 955.6 L1091.5 956.0 L1092.0 956.2 L1092.5 956.0 L1093.0 956.2 L1093.5 955.8 L1094.0 955.7 L1094.5 955.8 L1095.0 955.5 L1095.5 955.7 L1096.0 955.6 L1096.5 955.3 L1097.0 955.7 L1097.5 955.9 L1098.0 956.0 L1098.5 955.7 L1099.0 956.0 L1099.5 955.5 L1100.0 956.0 L1100.5 955.5 L1101.0 955.6 L1101.5 955.3 L1102.0 956.0 L1102.5 955.4 L1103.0 955.7 L1103.5 955.3 L1104.0 955.2 L1104.5 955.2 L1105.0 954.5 L1105.5 954.7 L1106.0 954.2 L1106.5 953.7 L1107.0 953.9 L1107.5 953.3 L1108.0 953.4 L1108.5 952.9 L1109.0 952.6 L1109.5 952.5 L1110.0 952.7 L1110.5 952.7 L1111.0 953.4 L1111.5 953.3 L1112.0 954.2 L1112.5 954.1 L1113.0 954.5 L1113.5 954.7 L1114.0 955.8 L1114.5 954.9 L1115.0 955.9 L1115.5 956.1 L1116.0 956.3 L1116.5 956.6 L1117.0 956.6 L1117.5 955.9 L1118.0 956.4 L1118.5 956.2 L1119.0 956.4 L1119.5 956.4 L1120.0 956.7 L1120.5 956.7 L1121.0 956.5 L1121.5 956.3 L1122.0 956.5 L1122.5 956.4 L1123.0 956.3 L1123.5 956.5 L1124.0 956.5 L1124.5 955.8 L1125.0 956.2 L1125.5 955.4 L1126.0 955.3 L1126.5 954.7 L1127.0 954.9 L1127.5 954.8 L1128.0 953.6 L1128.5 953.3 L1129.0 952.7 L1129.5 952.4 L1130.0 952.1 L1130.5 951.0 L1131.0 951.1 L1131.5 951.0 L1132.0 950.1 L1132.5 950.0 L1133.0 950.0 L1133.5 949.5 L1134.0 950.0 L1134.5 950.6 L1135.0 950.9 L1135.5 951.6 L1136.0 951.7 L1136.5 952.4 L1137.0 952.8 L1137.5 953.2 L1138.0 954.2 L1138.5 954.9 L1139.0 954.7 L1139.5 955.3 L1140.0 955.7 L1140.5 956.2 L1141.0 955.9 L1141.5 955.9 L1142.0 956.5 L1142.5 956.3 L1143.0 956.3 L1143.5 956.6 L1144.0 956.8 L1144.5 956.8 L1145.0 956.8 L1145.5 956.4 L1146.0 956.4 L1146.5 957.0 L1147.0 957.3 L1147.5 957.1 L1148.0 956.7 L1148.5 957.2 L1149.0 956.8 L1149.5 957.3 L1150.0 957.1 L1150.5 957.2 L1151.0 956.8 L1151.5 957.2 L1152.0 956.5 L1152.5 957.4 L1153.0 956.8 L1153.5 957.0 L1154.0 957.3 L1154.5 957.3 L1155.0 957.1 L1155.5 956.7 L1156.0 957.4 L1156.5 957.0 L1157.0 956.8 L1157.5 957.5 L1158.0 957.8 L1158.5 957.0 L1159.0 957.4 L1159.5 957.4 L1160.0 957.2 L1160.5 957.3 L1161.0 957.2 L1161.5 956.6 L1162.0 956.9 L1162.5 957.0 L1163.0 956.9 L1163.5 957.2 L1164.0 957.1 L1164.5 957.3 L1165.0 957.7 L1165.5 957.0 L1166.0 957.3 L1166.5 957.6 L1167.0 957.1 L1167.5 956.7 L1168.0 957.1 L1168.5 957.5 L1169.0 957.3 L1169.5 956.8 L1170.0 957.2 L1170.5 957.1 L1171.0 957.0 L1171.5 957.4 L1172.0 956.5 L1172.5 957.5 L1173.0 957.6 L1173.5 957.1 L1174.0 956.9 L1174.5 956.8 L1175.0 957.3 L1175.5 957.0 L1176.0 956.7 L1176.5 956.7 L1177.0 957.3 L1177.5 957.4 L1178.0 956.8 L1178.5 957.5 L1179.0 957.0 L1179.5 957.2 L1180.0 956.9 L1180.5 957.4 L1181.0 957.1 L1181.5 957.2 L1182.0 957.3 L1182.5 957.0 L1183.0 957.5 L1183.5 957.2 L1184.0 957.0 L1184.5 956.9 L1185.0 957.2 L1185.5 957.2 L1186.0 957.1 L1186.5 956.9 L1187.0 957.5 L1187.5 957.2 L1188.0 957.4 L1188.5 957.3 L1189.0 957.1 L1189.5 957.0 L1190.0 956.8 L1190.5 957.4 L1191.0 957.1 L1191.5 957.5 L1192.0 957.5 L1192.5 957.3 L1193.0 957.2 L1193.5 957.4 L1194.0 957.6 L1194.5 957.2 L1195.0 957.4 L1195.5 957.6 L1196.0 956.9 L1196.5 957.4 L1197.0 957.2 L1197.5 957.3 L1198.0 957.4 L1198.5 957.2 L1199.0 957.3 L1199.5 957.6 L1200.0 957.4 L1200.5 957.3 L1201.0 957.2 L1201.5 957.2 L1202.0 957.5 L1202.5 957.2 L1203.0 957.1 L1203.5 957.1 L1204.0 957.1 L1204.5 957.2 L1205.0 957.2 L1205.5 957.2 L1206.0 957.8 L1206.5 956.9 L1207.0 957.2 L1207.5 957.4 L1208.0 957.2 L1208.5 957.2 L1209.0 956.9 L1209.5 957.2 L1210.0 957.4 L1210.5 957.0 L1211.0 957.3 L1211.5 957.4 L1212.0 957.2 L1212.5 957.2 L1213.0 956.8 L1213.5 957.5 L1214.0 957.8 L1214.5 957.5 L1215.0 957.6 L1215.5 956.5 L1216.0 957.0 L1216.5 957.1 L1217.0 957.2 L1217.5 957.0 L1218.0 956.7 L1218.5 957.1 L1219.0 956.8 L1219.5 957.1 L1220.0 957.4 L1220.5 957.6 L1221.0 957.3 L1221.5 957.4 L1222.0 956.7 L1222.5 956.9 L1223.0 957.3 L1223.5 957.3 L1224.0 957.2 L1224.5 957.0 L1225.0 957.1 L1225.5 957.3 L1226.0 957.6 L1226.5 957.2 L1227.0 956.6 L1227.5 957.7 L1228.0 957.4 L1228.5 957.0 L1229.0 957.5 L1229.5 957.4 L1230.0 957.1 L1230.5 957.0 L1231.0 957.4 L1231.5 957.2 L1232.0 957.5 L1232.5 957.0 L1233.0 957.0 L1233.5 956.9 L1234.0 957.1 L1234.5 957.7 L1235.0 956.6 L1235.5 957.3 L1236.0 956.9 L1236.5 956.9 L1237.0 957.7 L1237.5 956.7 L1238.0 957.1 L1238.5 956.6 L1239.0 957.0 L1239.5 957.3 L1240.0 957.2 L1240.5 957.4 L1241.0 957.4 L1241.5 957.1 L1242.0 957.2 L1242.5 957.3 L1243.0 957.1 L1243.5 956.6 L1244.0 957.1 L1244.5 957.3 L1245.0 957.2 L1245.5 956.7 L1246.0 957.0 L1246.5 957.3 L1247.0 957.0 L1247.5 957.4 L1248.0 956.9 L1248.5 956.7 L1249.0 956.9 L1249.5 957.7 L1250.0 957.0 L1250.5 957.0 L1251.0 957.3 L1251.5 957.0 L1252.0 956.7 L1252.5 957.0 L1253.0 957.4 L1253.5 956.8 L1254.0 956.8 L1254.5 957.1 L1255.0 957.2 L1255.5 957.0 L1256.0 957.6 L1256.5 957.1 L1257.0 956.9 L1257.5 957.2 L1258.0 957.2 L1258.5 957.2 L1259.0 957.1 L1259.5 957.7 L1260.0 957.6 L1260.5 957.3 L1261.0 957.1 L1261.5 957.4 L1262.0 957.4 L1262.5 957.3 L1263.0 957.0 L1263.5 957.5 L1264.0 957.3 L1264.5 956.9 L1265.0 957.4 L1265.5 957.4 L1266.0 957.4 L1266.5 957.1 L1267.0 957.1 L1267.5 957.0 L1268.0 957.1 L1268.5 957.5 L1269.0 957.3 L1269.5 956.9 L1270.0 957.3 L1270.5 957.5 L1271.0 957.6 L1271.5 957.3 L1272.0 957.0 L1272.5 957.1 L1273.0 957.0 L1273.5 957.0 L1274.0 956.9 L1274.5 957.2 L1275.0 957.2 L1275.5 957.0 L1276.0 957.7 L1276.5 957.1 L1277.0 957.4 L1277.5 957.7 L1278.0 957.1 L1278.5 957.7 L1279.0 957.3 L1279.5 957.7 L1280.0 957.4 L1280.5 957.0 L1281.0 957.0 L1281.5 956.8 L1282.0 957.0 L1282.5 957.0 L1283.0 957.3 L1283.5 956.7 L1284.0 956.7 L1284.5 957.1 L1285.0 957.0 L1285.5 957.4 L1286.0 957.1 L1286.5 957.0 L1287.0 957.3 L1287.5 956.8 L1288.0 957.3 L1288.5 957.4 L1289.0 957.4 L1289.5 957.0 L1290.0 957.6 L1290.5 957.3 L1291.0 957.3 L1291.5 957.5 L1292.0 957.5 L1292.5 957.0 L1293.0 957.2 L1293.5 957.1 L1294.0 957.2 L1294.5 957.3 L1295.0 957.4 L1295.5 957.2 L1296.0 957.4 L1296.5 957.5 L1297.0 957.3 L1297.5 956.8 L1298.0 956.7 L1298.5 957.1 L1299.0 957.1 L1299.5 957.2 L1300.0 957.2 L1300.5 957.2 L1301.0 957.5 L1301.5 957.2 L1302.0 957.1 L1302.5 957.1 L1303.0 957.3 L1303.5 957.0 L1304.0 957.1 L1304.5 957.2 L1305.0 957.0 L1305.5 956.8 L1306.0 956.9 L1306.5 956.9 L1307.0 956.9 L1307.5 957.1 L1308.0 957.3 L1308.5 957.1 L1309.0 956.8 L1309.5 957.5 L1310.0 957.2 L1310.5 956.6 L1311.0 957.1 L1311.5 956.8 L1312.0 957.1 L1312.5 957.1 L1313.0 957.3 L1313.5 956.7 L1314.0 957.2 L1314.5 957.4 L1315.0 956.8 L1315.5 957.4 L1316.0 957.3 L1316.5 957.3 L1317.0 957.6 L1317.5 957.0 L1318.0 957.1 L1318.5 957.3 L1319.0 957.3 L1319.5 957.2 L1320.0 957.3 L1320.5 957.1 L1321.0 957.3 L1321.5 957.1 L1322.0 957.3 L1322.5 957.0 L1323.0 957.1 L1323.5 956.8 L1324.0 957.0 L1324.5 957.2 L1325.0 957.0 L1325.5 957.2 L1326.0 957.5 L1326.5 957.1 L1327.0 957.0 L1327.5 957.1 L1328.0 956.7 L1328.5 957.4 L1329.0 957.6 L1329.5 956.9 L1330.0 957.9 L1330.5 956.9 L1331.0 957.4 L1331.5 957.2 L1332.0 957.6 L1332.5 957.5 L1333.0 957.5 L1333.5 957.5 L1334.0 957.3 L1334.5 957.4 L1335.0 957.0 L1335.5 957.7 L1336.0 957.2 L1336.5 957.4 L1337.0 957.2 L1337.5 957.0 L1338.0 956.9 L1338.5 957.1 L1339.0 957.1 L1339.5 956.9 L1340.0 957.2 L1340.5 957.3 L1341.0 957.3 L1341.5 957.0 L1342.0 957.2 L1342.5 957.5 L1343.0 957.4 L1343.5 957.1 L1344.0 957.1 L1344.5 957.4 L1345.0 956.7 L1345.5 957.3 L1346.0 956.9 L1346.5 957.0 L1347.0 957.1 L1347.5 957.4 L1348.0 956.8 L1348.5 957.3" fill="none" stroke="#dc3f49" stroke-width="2.0" stroke-linejoin="round"/>
<rect x="95.0" y="8.35" width="4.45" height="1010.55" fill="#000"/>
<rect x="1346.3" y="8.35" width="4.45" height="1010.55" fill="#000"/>
<rect x="95.0" y="8.35" width="1255.75" height="3.25" fill="#000"/>
<rect x="95.0" y="1014.55" width="1255.75" height="4.35" fill="#000"/>
<rect x="274.56" y="997.1" width="3.81" height="19" fill="#000"/>
<rect x="452.54" y="997.1" width="5.26" height="19" fill="#000"/>
<rect x="631.99" y="997.1" width="3.87" height="19" fill="#000"/>
<rect x="809.87" y="997.1" width="3.81" height="19" fill="#000"/>
<rect x="989.48" y="997.1" width="3.78" height="19" fill="#000"/>
<rect x="1167.3" y="997.1" width="4.10" height="19" fill="#000"/>
<text font-family="Liberation Serif, serif" font-size="53.5" x="97.00" y="1078.80" text-anchor="middle">20</text>
<text font-family="Liberation Serif, serif" font-size="53.5" x="275.79" y="1078.80" text-anchor="middle">30</text>
<text font-family="Liberation Serif, serif" font-size="53.5" x="454.57" y="1078.80" text-anchor="middle">40</text>
<text font-family="Liberation Serif, serif" font-size="53.5" x="633.36" y="1078.80" text-anchor="middle">50</text>
<text font-family="Liberation Serif, serif" font-size="53.5" x="812.14" y="1078.80" text-anchor="middle">60</text>
<text font-family="Liberation Serif, serif" font-size="53.5" x="990.93" y="1078.80" text-anchor="middle">70</text>
<text font-family="Liberation Serif, serif" font-size="53.5" x="1169.71" y="1078.80" text-anchor="middle">80</text>
<text font-family="Liberation Serif, serif" font-size="53.5" x="1348.50" y="1078.80" text-anchor="middle">90</text>
<text font-family="Liberation Serif, serif" font-size="53.5" x="643.75" y="1165.00" text-anchor="start" textLength="157.5" lengthAdjust="spacingAndGlyphs">2θ/deg.</text>
<text font-family="Liberation Serif, serif" font-size="52.5" text-anchor="middle" transform="translate(53.7 512) rotate(-90)" x="0" y="0">Intensity(a.u.)</text>
<text font-family="Liberation Serif, serif" font-size="53" x="165.33" y="658.20" text-anchor="start" textLength="85.8" lengthAdjust="spacingAndGlyphs">A=1</text>
<text font-family="Liberation Serif, serif" font-size="52" x="112.70" y="917.00" text-anchor="start" textLength="221.8" lengthAdjust="spacingAndGlyphs">base metal</text>
<text font-family="Liberation Serif, serif" font-size="53" x="1194.31" y="105.00" text-anchor="start" textLength="91.1" lengthAdjust="spacingAndGlyphs">α-Ti</text>
<text font-family="Liberation Serif, serif" font-size="53" x="1193.43" y="175.20" text-anchor="start" textLength="90.5" lengthAdjust="spacingAndGlyphs">β-Ti</text>
<text font-family="Liberation Serif, serif" font-size="53" x="1194.37" y="238.90" text-anchor="start" textLength="97.8" lengthAdjust="spacingAndGlyphs">α'-Ti</text>
<text font-family="Liberation Serif, serif" font-size="52" transform="translate(1147.50 95.10) scale(0.8494 0.8494)" x="-15.70" y="14.66">●</text>
<text font-family="DejaVu Serif, serif" font-size="52" transform="translate(1149.70 161.60) scale(0.7973 0.8104)" x="-23.28" y="18.94">♦</text>
<text font-family="DejaVu Serif, serif" stroke="#000" stroke-width="0.5" stroke-linejoin="round" font-size="52" transform="translate(1147.90 227.70) scale(0.8058 0.8874)" x="-13.00" y="26.76">*</text>
<text font-family="DejaVu Serif, serif" font-size="52" transform="translate(428.50 97.10) scale(0.8145 0.7708)" x="-23.28" y="18.94">♦</text>
<text font-family="DejaVu Serif, serif" stroke="#000" stroke-width="0.5" stroke-linejoin="round" font-size="52" transform="translate(427.10 134.90) scale(0.7647 0.9043)" x="-13.00" y="26.76">*</text>
<text font-family="Liberation Serif, serif" font-size="52" transform="translate(427.70 172.50) scale(0.8360 0.8360)" x="-15.70" y="14.66">●</text>
<text font-family="DejaVu Serif, serif" stroke="#000" stroke-width="0.5" stroke-linejoin="round" font-size="52" transform="translate(372.00 615.60) scale(0.7811 0.8790)" x="-13.00" y="26.76">*</text>
<text font-family="Liberation Serif, serif" font-size="52" transform="translate(371.30 652.80) scale(0.8360 0.8360)" x="-15.70" y="14.66">●</text>
<text font-family="DejaVu Serif, serif" font-size="52" transform="translate(466.20 540.20) scale(0.8179 0.7814)" x="-23.28" y="18.94">♦</text>
<text font-family="DejaVu Serif, serif" stroke="#000" stroke-width="0.5" stroke-linejoin="round" font-size="52" transform="translate(464.90 580.40) scale(0.7564 0.9043)" x="-13.00" y="26.76">*</text>
<text font-family="Liberation Serif, serif" font-size="52" transform="translate(463.90 622.00) scale(0.8360 0.8360)" x="-15.70" y="14.66">●</text>
<text font-family="DejaVu Serif, serif" stroke="#000" stroke-width="0.5" stroke-linejoin="round" font-size="52" transform="translate(690.20 676.20) scale(0.7811 0.8663)" x="-13.00" y="26.76">*</text>
<text font-family="Liberation Serif, serif" font-size="52" transform="translate(874.20 676.30) scale(0.8360 0.8360)" x="-15.70" y="14.66">●</text>
<text font-family="DejaVu Serif, serif" stroke="#000" stroke-width="0.5" stroke-linejoin="round" font-size="52" transform="translate(1007.80 674.50) scale(0.7893 0.8747)" x="-13.00" y="26.76">*</text>
<text font-family="Liberation Serif, serif" font-size="52" transform="translate(1135.60 680.10) scale(0.8360 0.8360)" x="-15.70" y="14.66">●</text>
<text font-family="DejaVu Serif, serif" stroke="#000" stroke-width="0.5" stroke-linejoin="round" font-size="52" transform="translate(1212.50 674.50) scale(0.7647 0.8747)" x="-13.00" y="26.76">*</text>
<text font-family="Liberation Serif, serif" font-size="52" transform="translate(373.20 846.30) scale(0.8360 0.8360)" x="-15.70" y="14.66">●</text>
<text font-family="DejaVu Serif, serif" font-size="52" transform="translate(421.20 873.90) scale(0.8111 0.7814)" x="-23.28" y="18.94">♦</text>
<text font-family="Liberation Serif, serif" font-size="52" transform="translate(422.20 918.10) scale(0.8360 0.8360)" x="-15.70" y="14.66">●</text>
<text font-family="DejaVu Serif, serif" font-size="52" transform="translate(458.80 841.80) scale(0.8042 0.8051)" x="-23.28" y="18.94">♦</text>
<text font-family="Liberation Serif, serif" font-size="52" transform="translate(459.80 891.30) scale(0.8360 0.8360)" x="-15.70" y="14.66">●</text>
<text font-family="Liberation Serif, serif" font-size="52" transform="translate(872.60 920.00) scale(0.8360 0.8360)" x="-15.70" y="14.66">●</text>
<text font-family="Liberation Serif, serif" font-size="52" transform="translate(1076.60 908.30) scale(0.8360 0.8360)" x="-15.70" y="14.66">●</text>
<text font-family="Liberation Serif, serif" font-size="52" transform="translate(1131.60 910.20) scale(0.8360 0.8360)" x="-15.70" y="14.66">●</text>
</svg>
</body></html>
